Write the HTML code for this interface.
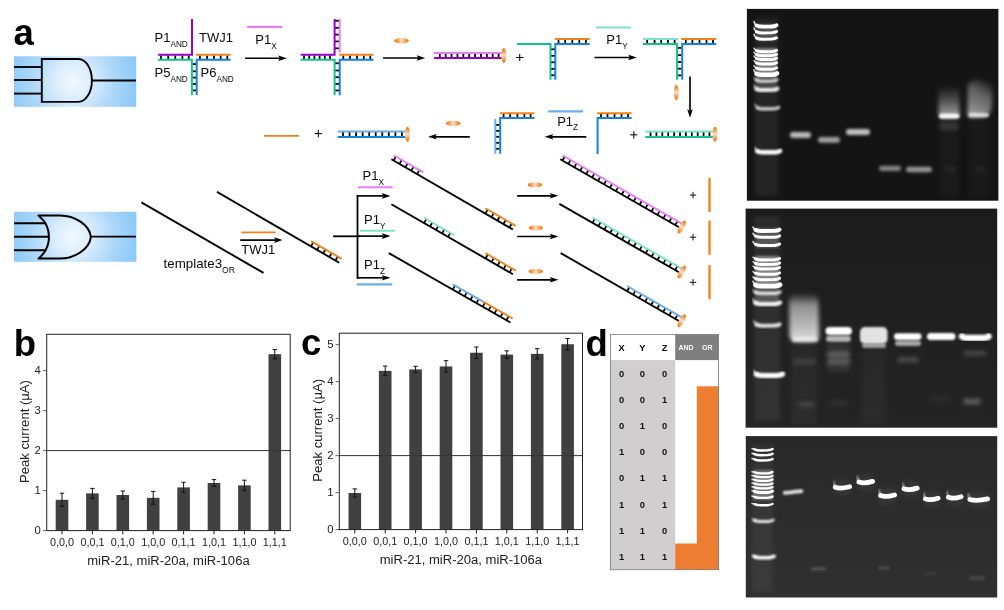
<!DOCTYPE html>
<html><head><meta charset="utf-8"><title>figure</title>
<style>html,body{margin:0;padding:0;background:#fff}svg{display:block;will-change:transform}text{font-family:"Liberation Sans",sans-serif}</style>
</head><body>
<svg width="1004" height="610" viewBox="0 0 1004 610">
<defs>
<radialGradient id="bg" gradientUnits="userSpaceOnUse" cx="73" cy="81.5" r="64">
<stop offset="0" stop-color="#f3f9fe"/><stop offset="0.3" stop-color="#d9ecfc"/><stop offset="0.65" stop-color="#acd7f9"/><stop offset="1" stop-color="#8dc9f7"/></radialGradient>
<radialGradient id="bg2" gradientUnits="userSpaceOnUse" cx="73" cy="237" r="64">
<stop offset="0" stop-color="#f3f9fe"/><stop offset="0.3" stop-color="#d9ecfc"/><stop offset="0.65" stop-color="#acd7f9"/><stop offset="1" stop-color="#8dc9f7"/></radialGradient>
<linearGradient id="ogh" x1="0" y1="0" x2="1" y2="0"><stop offset="0" stop-color="#ee7608"/><stop offset="0.22" stop-color="#f39a4a"/><stop offset="0.5" stop-color="#fbe0c9"/><stop offset="0.78" stop-color="#f39a4a"/><stop offset="1" stop-color="#ee7608"/></linearGradient>
<linearGradient id="ogv" x1="0" y1="0" x2="0" y2="1"><stop offset="0" stop-color="#ee7608"/><stop offset="0.22" stop-color="#f39a4a"/><stop offset="0.5" stop-color="#fbe0c9"/><stop offset="0.78" stop-color="#f39a4a"/><stop offset="1" stop-color="#ee7608"/></linearGradient>
<filter id="f05" x="-20%" y="-200%" width="140%" height="500%"><feGaussianBlur stdDeviation="0.55"/></filter>
<filter id="f08" x="-20%" y="-200%" width="140%" height="500%"><feGaussianBlur stdDeviation="0.9"/></filter>
<filter id="f12" x="-30%" y="-200%" width="160%" height="500%"><feGaussianBlur stdDeviation="1.3"/></filter>
<filter id="f15" x="-30%" y="-200%" width="160%" height="500%"><feGaussianBlur stdDeviation="1.6"/></filter>
<filter id="f2" x="-40%" y="-100%" width="180%" height="300%"><feGaussianBlur stdDeviation="2.2"/></filter>
<filter id="f4" x="-50%" y="-50%" width="200%" height="200%"><feGaussianBlur stdDeviation="4"/></filter>
<linearGradient id="sm" x1="0" y1="0" x2="0" y2="1"><stop offset="0" stop-color="#fff" stop-opacity="0"/><stop offset="0.25" stop-color="#fff" stop-opacity="0.5"/><stop offset="0.75" stop-color="#fff" stop-opacity="0.72"/><stop offset="1" stop-color="#fff" stop-opacity="0.88"/></linearGradient>
<linearGradient id="sm7" x1="0" y1="0" x2="0" y2="1"><stop offset="0" stop-color="#fff" stop-opacity="0"/><stop offset="0.4" stop-color="#fff" stop-opacity="0.22"/><stop offset="0.8" stop-color="#fff" stop-opacity="0.5"/><stop offset="1" stop-color="#fff" stop-opacity="0.7"/></linearGradient>
<linearGradient id="sm8" x1="0.3" y1="0" x2="0" y2="1"><stop offset="0" stop-color="#fff" stop-opacity="0"/><stop offset="0.3" stop-color="#fff" stop-opacity="0.3"/><stop offset="0.75" stop-color="#fff" stop-opacity="0.5"/><stop offset="1" stop-color="#fff" stop-opacity="0.72"/></linearGradient>
<linearGradient id="g2bg" x1="0" y1="0" x2="0" y2="1"><stop offset="0" stop-color="#1b1b1b"/><stop offset="1" stop-color="#242424"/></linearGradient>
<linearGradient id="g3bg" x1="0" y1="0" x2="0" y2="1"><stop offset="0" stop-color="#282828"/><stop offset="1" stop-color="#303030"/></linearGradient>
<linearGradient id="lad" x1="0" y1="0" x2="0" y2="1"><stop offset="0" stop-color="#fff" stop-opacity="0.05"/><stop offset="0.5" stop-color="#fff" stop-opacity="0.16"/><stop offset="1" stop-color="#fff" stop-opacity="0.03"/></linearGradient>
</defs>
<rect width="1004" height="610" fill="#fff"/>

<text x="13.50" y="45.20" font-size="36.5" text-anchor="start" font-weight="bold" fill="#000" >a</text>
<text x="13.70" y="356.20" font-size="36.5" text-anchor="start" font-weight="bold" fill="#000" >b</text>
<text x="301.00" y="354.90" font-size="36.5" text-anchor="start" font-weight="bold" fill="#000" >c</text>
<text x="585.50" y="356.40" font-size="36.5" text-anchor="start" font-weight="bold" fill="#000" >d</text>
<rect x="14" y="56.3" width="122.2" height="50.5" fill="url(#bg)"/>
<line x1="14.00" y1="67.00" x2="41.80" y2="67.00" stroke="#000" stroke-width="1.9" stroke-linecap="butt"/>
<line x1="14.00" y1="80.00" x2="41.80" y2="80.00" stroke="#000" stroke-width="1.9" stroke-linecap="butt"/>
<line x1="14.00" y1="93.60" x2="41.80" y2="93.60" stroke="#000" stroke-width="1.9" stroke-linecap="butt"/>
<line x1="91.90" y1="80.50" x2="136.00" y2="80.50" stroke="#000" stroke-width="1.8" stroke-linecap="butt"/>
<path d="M41.8 59 H78.4 A13.5 21.45 0 0 1 78.4 101.9 H41.8 Z" stroke="#000" stroke-width="1.9" fill="none" stroke-linejoin="miter" stroke-linecap="butt"/>
<rect x="14" y="211.8" width="122.4" height="50" fill="url(#bg2)"/>
<line x1="14.00" y1="223.30" x2="46.20" y2="223.30" stroke="#000" stroke-width="1.9" stroke-linecap="butt"/>
<line x1="14.00" y1="236.70" x2="49.00" y2="236.70" stroke="#000" stroke-width="1.9" stroke-linecap="butt"/>
<line x1="14.00" y1="250.30" x2="46.20" y2="250.30" stroke="#000" stroke-width="1.9" stroke-linecap="butt"/>
<line x1="90.70" y1="236.70" x2="136.00" y2="236.70" stroke="#000" stroke-width="1.8" stroke-linecap="butt"/>
<path d="M38.5 215.4 H60 C75 215.4 89.5 225 90.9 236.9 C89.5 249 75 258.5 60 258.5 H38.5 C52.5 247 52.5 227 38.5 215.4 Z" stroke="#000" stroke-width="2.0" fill="none" stroke-linejoin="round" stroke-linecap="butt"/>
<line x1="161.00" y1="55.50" x2="161.00" y2="59.00" stroke="#000" stroke-width="1.75" stroke-linecap="butt"/>
<line x1="168.20" y1="55.50" x2="168.20" y2="59.00" stroke="#000" stroke-width="1.75" stroke-linecap="butt"/>
<line x1="175.30" y1="55.50" x2="175.30" y2="59.00" stroke="#000" stroke-width="1.75" stroke-linecap="butt"/>
<line x1="182.40" y1="55.50" x2="182.40" y2="59.00" stroke="#000" stroke-width="1.75" stroke-linecap="butt"/>
<line x1="188.70" y1="55.50" x2="188.70" y2="59.00" stroke="#000" stroke-width="1.75" stroke-linecap="butt"/>
<line x1="199.90" y1="55.50" x2="199.90" y2="59.00" stroke="#000" stroke-width="1.75" stroke-linecap="butt"/>
<line x1="207.00" y1="55.50" x2="207.00" y2="59.00" stroke="#000" stroke-width="1.75" stroke-linecap="butt"/>
<line x1="213.90" y1="55.50" x2="213.90" y2="59.00" stroke="#000" stroke-width="1.75" stroke-linecap="butt"/>
<line x1="220.70" y1="55.50" x2="220.70" y2="59.00" stroke="#000" stroke-width="1.75" stroke-linecap="butt"/>
<line x1="227.30" y1="55.50" x2="227.30" y2="59.00" stroke="#000" stroke-width="1.75" stroke-linecap="butt"/>
<line x1="192.50" y1="64.10" x2="196.20" y2="64.10" stroke="#000" stroke-width="1.75" stroke-linecap="butt"/>
<line x1="192.50" y1="71.30" x2="196.20" y2="71.30" stroke="#000" stroke-width="1.75" stroke-linecap="butt"/>
<line x1="192.50" y1="77.60" x2="196.20" y2="77.60" stroke="#000" stroke-width="1.75" stroke-linecap="butt"/>
<line x1="192.50" y1="84.00" x2="196.20" y2="84.00" stroke="#000" stroke-width="1.75" stroke-linecap="butt"/>
<line x1="192.50" y1="90.40" x2="196.20" y2="90.40" stroke="#000" stroke-width="1.75" stroke-linecap="butt"/>
<path d="M158.1 54.7 H192 V19" stroke="#9900cc" stroke-width="2.0" fill="none" stroke-linejoin="miter" stroke-linecap="butt"/>
<path d="M158.1 59.75 H191.9 V94.9" stroke="#12c48b" stroke-width="2.0" fill="none" stroke-linejoin="miter" stroke-linecap="butt"/>
<path d="M230.6 59.75 H196.7 V94.9" stroke="#1381e0" stroke-width="2.0" fill="none" stroke-linejoin="miter" stroke-linecap="butt"/>
<line x1="196.00" y1="54.70" x2="230.60" y2="54.70" stroke="#f28118" stroke-width="2.0" stroke-linecap="butt"/>
<text x="154.60" y="42.00" font-size="13.0" fill="#0a0a0a">P1<tspan font-size="8.2" dy="4.7">AND</tspan></text>
<text x="199.00" y="42.00" font-size="13.0" text-anchor="start" font-weight="normal" fill="#0a0a0a" >TWJ1</text>
<text x="154.60" y="77.20" font-size="13.0" fill="#0a0a0a">P5<tspan font-size="8.2" dy="4.7">AND</tspan></text>
<text x="200.60" y="77.20" font-size="13.0" fill="#0a0a0a">P6<tspan font-size="8.2" dy="4.7">AND</tspan></text>
<line x1="247.10" y1="26.90" x2="282.40" y2="26.90" stroke="#e67ff5" stroke-width="2.1" stroke-linecap="butt"/>
<text x="255.30" y="43.90" font-size="13.0" fill="#0a0a0a">P1<tspan font-size="8.2" dy="5">X</tspan></text>
<line x1="245.00" y1="58.20" x2="279.80" y2="58.20" stroke="#000" stroke-width="1.65" stroke-linecap="butt"/>
<path d="M286.80 58.20 L278.30 61.00 L279.80 58.20 L278.30 55.40 Z" fill="#000"/>
<line x1="304.00" y1="55.50" x2="304.00" y2="59.00" stroke="#000" stroke-width="1.75" stroke-linecap="butt"/>
<line x1="309.20" y1="55.50" x2="309.20" y2="59.00" stroke="#000" stroke-width="1.75" stroke-linecap="butt"/>
<line x1="314.40" y1="55.50" x2="314.40" y2="59.00" stroke="#000" stroke-width="1.75" stroke-linecap="butt"/>
<line x1="319.60" y1="55.50" x2="319.60" y2="59.00" stroke="#000" stroke-width="1.75" stroke-linecap="butt"/>
<line x1="324.80" y1="55.50" x2="324.80" y2="59.00" stroke="#000" stroke-width="1.75" stroke-linecap="butt"/>
<line x1="330.00" y1="55.50" x2="330.00" y2="59.00" stroke="#000" stroke-width="1.75" stroke-linecap="butt"/>
<line x1="343.30" y1="55.50" x2="343.30" y2="59.00" stroke="#000" stroke-width="1.75" stroke-linecap="butt"/>
<line x1="350.00" y1="55.50" x2="350.00" y2="59.00" stroke="#000" stroke-width="1.75" stroke-linecap="butt"/>
<line x1="357.00" y1="55.50" x2="357.00" y2="59.00" stroke="#000" stroke-width="1.75" stroke-linecap="butt"/>
<line x1="363.80" y1="55.50" x2="363.80" y2="59.00" stroke="#000" stroke-width="1.75" stroke-linecap="butt"/>
<line x1="370.30" y1="55.50" x2="370.30" y2="59.00" stroke="#000" stroke-width="1.75" stroke-linecap="butt"/>
<line x1="335.00" y1="63.30" x2="339.40" y2="63.30" stroke="#000" stroke-width="1.75" stroke-linecap="butt"/>
<line x1="335.00" y1="70.50" x2="339.40" y2="70.50" stroke="#000" stroke-width="1.75" stroke-linecap="butt"/>
<line x1="335.00" y1="77.20" x2="339.40" y2="77.20" stroke="#000" stroke-width="1.75" stroke-linecap="butt"/>
<line x1="335.00" y1="83.90" x2="339.40" y2="83.90" stroke="#000" stroke-width="1.75" stroke-linecap="butt"/>
<line x1="335.00" y1="90.40" x2="339.40" y2="90.40" stroke="#000" stroke-width="1.75" stroke-linecap="butt"/>
<line x1="335.00" y1="20.80" x2="339.40" y2="20.80" stroke="#000" stroke-width="1.75" stroke-linecap="butt"/>
<line x1="335.00" y1="27.80" x2="339.40" y2="27.80" stroke="#000" stroke-width="1.75" stroke-linecap="butt"/>
<line x1="335.00" y1="34.60" x2="339.40" y2="34.60" stroke="#000" stroke-width="1.75" stroke-linecap="butt"/>
<line x1="335.00" y1="41.40" x2="339.40" y2="41.40" stroke="#000" stroke-width="1.75" stroke-linecap="butt"/>
<line x1="335.00" y1="48.30" x2="339.40" y2="48.30" stroke="#000" stroke-width="1.75" stroke-linecap="butt"/>
<path d="M300.7 54.7 H334.6 V19" stroke="#9900cc" stroke-width="2.0" fill="none" stroke-linejoin="miter" stroke-linecap="butt"/>
<line x1="339.70" y1="19.00" x2="339.70" y2="52.60" stroke="#e67ff5" stroke-width="2.0" stroke-linecap="butt"/>
<path d="M300.7 59.75 H334.6 V95.2" stroke="#12c48b" stroke-width="2.0" fill="none" stroke-linejoin="miter" stroke-linecap="butt"/>
<path d="M373.6 59.75 H339.7 V95.2" stroke="#1381e0" stroke-width="2.0" fill="none" stroke-linejoin="miter" stroke-linecap="butt"/>
<line x1="339.20" y1="54.70" x2="373.60" y2="54.70" stroke="#f28118" stroke-width="2.0" stroke-linecap="butt"/>
<ellipse cx="401.50" cy="40.80" rx="7.4" ry="2.7" fill="url(#ogh)"/>
<line x1="383.10" y1="58.00" x2="418.20" y2="58.00" stroke="#000" stroke-width="1.65" stroke-linecap="butt"/>
<path d="M425.20 58.00 L416.70 60.80 L418.20 58.00 L416.70 55.20 Z" fill="#000"/>
<line x1="439.80" y1="53.50" x2="439.80" y2="57.50" stroke="#000" stroke-width="1.75" stroke-linecap="butt"/>
<line x1="445.68" y1="53.50" x2="445.68" y2="57.50" stroke="#000" stroke-width="1.75" stroke-linecap="butt"/>
<line x1="451.56" y1="53.50" x2="451.56" y2="57.50" stroke="#000" stroke-width="1.75" stroke-linecap="butt"/>
<line x1="457.44" y1="53.50" x2="457.44" y2="57.50" stroke="#000" stroke-width="1.75" stroke-linecap="butt"/>
<line x1="463.32" y1="53.50" x2="463.32" y2="57.50" stroke="#000" stroke-width="1.75" stroke-linecap="butt"/>
<line x1="469.20" y1="53.50" x2="469.20" y2="57.50" stroke="#000" stroke-width="1.75" stroke-linecap="butt"/>
<line x1="475.08" y1="53.50" x2="475.08" y2="57.50" stroke="#000" stroke-width="1.75" stroke-linecap="butt"/>
<line x1="480.96" y1="53.50" x2="480.96" y2="57.50" stroke="#000" stroke-width="1.75" stroke-linecap="butt"/>
<line x1="486.84" y1="53.50" x2="486.84" y2="57.50" stroke="#000" stroke-width="1.75" stroke-linecap="butt"/>
<line x1="492.72" y1="53.50" x2="492.72" y2="57.50" stroke="#000" stroke-width="1.75" stroke-linecap="butt"/>
<line x1="498.60" y1="53.50" x2="498.60" y2="57.50" stroke="#000" stroke-width="1.75" stroke-linecap="butt"/>
<line x1="433.90" y1="53.00" x2="502.00" y2="53.00" stroke="#e67ff5" stroke-width="2.0" stroke-linecap="butt"/>
<line x1="433.90" y1="58.00" x2="502.00" y2="58.00" stroke="#9900cc" stroke-width="2.0" stroke-linecap="butt"/>
<ellipse cx="503.80" cy="55.40" rx="2.5" ry="7.5" fill="url(#ogv)"/>
<line x1="516.10" y1="57.50" x2="523.30" y2="57.50" stroke="#111" stroke-width="1.1" stroke-linecap="butt"/>
<line x1="519.70" y1="53.90" x2="519.70" y2="61.10" stroke="#111" stroke-width="1.1" stroke-linecap="butt"/>
<line x1="558.50" y1="39.50" x2="558.50" y2="43.50" stroke="#000" stroke-width="1.75" stroke-linecap="butt"/>
<line x1="565.20" y1="39.50" x2="565.20" y2="43.50" stroke="#000" stroke-width="1.75" stroke-linecap="butt"/>
<line x1="572.30" y1="39.50" x2="572.30" y2="43.50" stroke="#000" stroke-width="1.75" stroke-linecap="butt"/>
<line x1="579.30" y1="39.50" x2="579.30" y2="43.50" stroke="#000" stroke-width="1.75" stroke-linecap="butt"/>
<line x1="585.90" y1="39.50" x2="585.90" y2="43.50" stroke="#000" stroke-width="1.75" stroke-linecap="butt"/>
<line x1="551.00" y1="49.30" x2="555.00" y2="49.30" stroke="#000" stroke-width="1.75" stroke-linecap="butt"/>
<line x1="551.00" y1="55.80" x2="555.00" y2="55.80" stroke="#000" stroke-width="1.75" stroke-linecap="butt"/>
<line x1="551.00" y1="62.30" x2="555.00" y2="62.30" stroke="#000" stroke-width="1.75" stroke-linecap="butt"/>
<line x1="551.00" y1="68.90" x2="555.00" y2="68.90" stroke="#000" stroke-width="1.75" stroke-linecap="butt"/>
<line x1="551.00" y1="75.20" x2="555.00" y2="75.20" stroke="#000" stroke-width="1.75" stroke-linecap="butt"/>
<path d="M517 44.1 H550.5 V79.8" stroke="#12c48b" stroke-width="2.0" fill="none" stroke-linejoin="miter" stroke-linecap="butt"/>
<path d="M589.7 43.9 H555.3 V79.8" stroke="#1381e0" stroke-width="2.0" fill="none" stroke-linejoin="miter" stroke-linecap="butt"/>
<line x1="554.80" y1="39.05" x2="589.70" y2="39.05" stroke="#f28118" stroke-width="2.0" stroke-linecap="butt"/>
<line x1="595.80" y1="27.50" x2="631.00" y2="27.50" stroke="#7de3c4" stroke-width="2.1" stroke-linecap="butt"/>
<text x="606.30" y="44.20" font-size="13.0" fill="#0a0a0a">P1<tspan font-size="8.2" dy="4.8">Y</tspan></text>
<line x1="594.50" y1="57.50" x2="629.80" y2="57.50" stroke="#000" stroke-width="1.65" stroke-linecap="butt"/>
<path d="M636.80 57.50 L628.30 60.30 L629.80 57.50 L628.30 54.70 Z" fill="#000"/>
<line x1="647.20" y1="39.50" x2="647.20" y2="43.50" stroke="#000" stroke-width="1.75" stroke-linecap="butt"/>
<line x1="654.60" y1="39.50" x2="654.60" y2="43.50" stroke="#000" stroke-width="1.75" stroke-linecap="butt"/>
<line x1="661.20" y1="39.50" x2="661.20" y2="43.50" stroke="#000" stroke-width="1.75" stroke-linecap="butt"/>
<line x1="667.90" y1="39.50" x2="667.90" y2="43.50" stroke="#000" stroke-width="1.75" stroke-linecap="butt"/>
<line x1="674.60" y1="39.50" x2="674.60" y2="43.50" stroke="#000" stroke-width="1.75" stroke-linecap="butt"/>
<line x1="685.80" y1="39.50" x2="685.80" y2="43.50" stroke="#000" stroke-width="1.75" stroke-linecap="butt"/>
<line x1="692.40" y1="39.50" x2="692.40" y2="43.50" stroke="#000" stroke-width="1.75" stroke-linecap="butt"/>
<line x1="699.50" y1="39.50" x2="699.50" y2="43.50" stroke="#000" stroke-width="1.75" stroke-linecap="butt"/>
<line x1="706.50" y1="39.50" x2="706.50" y2="43.50" stroke="#000" stroke-width="1.75" stroke-linecap="butt"/>
<line x1="713.00" y1="39.50" x2="713.00" y2="43.50" stroke="#000" stroke-width="1.75" stroke-linecap="butt"/>
<line x1="678.00" y1="47.90" x2="681.50" y2="47.90" stroke="#000" stroke-width="1.75" stroke-linecap="butt"/>
<line x1="678.00" y1="55.10" x2="681.50" y2="55.10" stroke="#000" stroke-width="1.75" stroke-linecap="butt"/>
<line x1="678.00" y1="62.00" x2="681.50" y2="62.00" stroke="#000" stroke-width="1.75" stroke-linecap="butt"/>
<line x1="678.00" y1="68.70" x2="681.50" y2="68.70" stroke="#000" stroke-width="1.75" stroke-linecap="butt"/>
<line x1="678.00" y1="75.40" x2="681.50" y2="75.40" stroke="#000" stroke-width="1.75" stroke-linecap="butt"/>
<line x1="643.00" y1="39.05" x2="678.10" y2="39.05" stroke="#7de3c4" stroke-width="2.0" stroke-linecap="butt"/>
<path d="M643 43.9 H677.1 V79.8" stroke="#12c48b" stroke-width="2.0" fill="none" stroke-linejoin="miter" stroke-linecap="butt"/>
<path d="M716.2 43.9 H682.2 V79.8" stroke="#1381e0" stroke-width="2.0" fill="none" stroke-linejoin="miter" stroke-linecap="butt"/>
<line x1="681.10" y1="39.05" x2="716.20" y2="39.05" stroke="#f28118" stroke-width="2.0" stroke-linecap="butt"/>
<ellipse cx="676.30" cy="92.40" rx="2.5" ry="7.5" fill="url(#ogv)"/>
<line x1="690.00" y1="76.50" x2="690.00" y2="110.70" stroke="#000" stroke-width="1.65" stroke-linecap="butt"/>
<path d="M690.00 117.70 L687.20 109.20 L690.00 110.70 L692.80 109.20 Z" fill="#000"/>
<line x1="650.50" y1="132.00" x2="650.50" y2="136.50" stroke="#000" stroke-width="1.75" stroke-linecap="butt"/>
<line x1="656.40" y1="132.00" x2="656.40" y2="136.50" stroke="#000" stroke-width="1.75" stroke-linecap="butt"/>
<line x1="662.30" y1="132.00" x2="662.30" y2="136.50" stroke="#000" stroke-width="1.75" stroke-linecap="butt"/>
<line x1="668.20" y1="132.00" x2="668.20" y2="136.50" stroke="#000" stroke-width="1.75" stroke-linecap="butt"/>
<line x1="674.10" y1="132.00" x2="674.10" y2="136.50" stroke="#000" stroke-width="1.75" stroke-linecap="butt"/>
<line x1="680.00" y1="132.00" x2="680.00" y2="136.50" stroke="#000" stroke-width="1.75" stroke-linecap="butt"/>
<line x1="685.90" y1="132.00" x2="685.90" y2="136.50" stroke="#000" stroke-width="1.75" stroke-linecap="butt"/>
<line x1="691.80" y1="132.00" x2="691.80" y2="136.50" stroke="#000" stroke-width="1.75" stroke-linecap="butt"/>
<line x1="697.70" y1="132.00" x2="697.70" y2="136.50" stroke="#000" stroke-width="1.75" stroke-linecap="butt"/>
<line x1="703.60" y1="132.00" x2="703.60" y2="136.50" stroke="#000" stroke-width="1.75" stroke-linecap="butt"/>
<line x1="709.50" y1="132.00" x2="709.50" y2="136.50" stroke="#000" stroke-width="1.75" stroke-linecap="butt"/>
<line x1="645.30" y1="131.60" x2="713.40" y2="131.60" stroke="#7de3c4" stroke-width="2.0" stroke-linecap="butt"/>
<line x1="645.30" y1="137.10" x2="713.40" y2="137.10" stroke="#12c48b" stroke-width="2.0" stroke-linecap="butt"/>
<ellipse cx="715.00" cy="134.30" rx="2.5" ry="7.5" fill="url(#ogv)"/>
<line x1="630.20" y1="134.80" x2="637.40" y2="134.80" stroke="#111" stroke-width="1.1" stroke-linecap="butt"/>
<line x1="633.80" y1="131.20" x2="633.80" y2="138.40" stroke="#111" stroke-width="1.1" stroke-linecap="butt"/>
<line x1="601.00" y1="113.80" x2="601.00" y2="117.50" stroke="#000" stroke-width="1.75" stroke-linecap="butt"/>
<line x1="607.50" y1="113.80" x2="607.50" y2="117.50" stroke="#000" stroke-width="1.75" stroke-linecap="butt"/>
<line x1="614.50" y1="113.80" x2="614.50" y2="117.50" stroke="#000" stroke-width="1.75" stroke-linecap="butt"/>
<line x1="621.50" y1="113.80" x2="621.50" y2="117.50" stroke="#000" stroke-width="1.75" stroke-linecap="butt"/>
<line x1="628.00" y1="113.80" x2="628.00" y2="117.50" stroke="#000" stroke-width="1.75" stroke-linecap="butt"/>
<line x1="597.10" y1="113.20" x2="631.60" y2="113.20" stroke="#f28118" stroke-width="2.0" stroke-linecap="butt"/>
<path d="M631.6 118 H597.6 V154" stroke="#1381e0" stroke-width="2.0" fill="none" stroke-linejoin="miter" stroke-linecap="butt"/>
<line x1="548.20" y1="111.40" x2="583.00" y2="111.40" stroke="#6aaee9" stroke-width="2.1" stroke-linecap="butt"/>
<text x="557.20" y="125.60" font-size="13.0" fill="#0a0a0a">P1<tspan font-size="8.2" dy="4.8">Z</tspan></text>
<line x1="586.30" y1="136.80" x2="551.70" y2="136.80" stroke="#000" stroke-width="1.65" stroke-linecap="butt"/>
<path d="M544.70 136.80 L553.20 134.00 L551.70 136.80 L553.20 139.60 Z" fill="#000"/>
<line x1="503.60" y1="113.80" x2="503.60" y2="117.50" stroke="#000" stroke-width="1.75" stroke-linecap="butt"/>
<line x1="510.20" y1="113.80" x2="510.20" y2="117.50" stroke="#000" stroke-width="1.75" stroke-linecap="butt"/>
<line x1="517.40" y1="113.80" x2="517.40" y2="117.50" stroke="#000" stroke-width="1.75" stroke-linecap="butt"/>
<line x1="524.40" y1="113.80" x2="524.40" y2="117.50" stroke="#000" stroke-width="1.75" stroke-linecap="butt"/>
<line x1="530.60" y1="113.80" x2="530.60" y2="117.50" stroke="#000" stroke-width="1.75" stroke-linecap="butt"/>
<line x1="495.80" y1="124.90" x2="499.50" y2="124.90" stroke="#000" stroke-width="1.75" stroke-linecap="butt"/>
<line x1="495.80" y1="130.90" x2="499.50" y2="130.90" stroke="#000" stroke-width="1.75" stroke-linecap="butt"/>
<line x1="495.80" y1="136.80" x2="499.50" y2="136.80" stroke="#000" stroke-width="1.75" stroke-linecap="butt"/>
<line x1="495.80" y1="142.80" x2="499.50" y2="142.80" stroke="#000" stroke-width="1.75" stroke-linecap="butt"/>
<line x1="495.80" y1="148.80" x2="499.50" y2="148.80" stroke="#000" stroke-width="1.75" stroke-linecap="butt"/>
<line x1="500.00" y1="113.30" x2="534.50" y2="113.30" stroke="#f28118" stroke-width="2.0" stroke-linecap="butt"/>
<path d="M534.5 117.9 H500.2 V153.8" stroke="#1381e0" stroke-width="2.0" fill="none" stroke-linejoin="miter" stroke-linecap="butt"/>
<line x1="495.30" y1="118.90" x2="495.30" y2="153.80" stroke="#6aaee9" stroke-width="2.0" stroke-linecap="butt"/>
<ellipse cx="453.20" cy="123.30" rx="7.4" ry="2.6" fill="url(#ogh)"/>
<line x1="469.80" y1="136.80" x2="435.10" y2="136.80" stroke="#000" stroke-width="1.65" stroke-linecap="butt"/>
<path d="M428.10 136.80 L436.60 134.00 L435.10 136.80 L436.60 139.60 Z" fill="#000"/>
<line x1="343.00" y1="132.00" x2="343.00" y2="136.50" stroke="#000" stroke-width="1.75" stroke-linecap="butt"/>
<line x1="349.54" y1="132.00" x2="349.54" y2="136.50" stroke="#000" stroke-width="1.75" stroke-linecap="butt"/>
<line x1="356.09" y1="132.00" x2="356.09" y2="136.50" stroke="#000" stroke-width="1.75" stroke-linecap="butt"/>
<line x1="362.63" y1="132.00" x2="362.63" y2="136.50" stroke="#000" stroke-width="1.75" stroke-linecap="butt"/>
<line x1="369.18" y1="132.00" x2="369.18" y2="136.50" stroke="#000" stroke-width="1.75" stroke-linecap="butt"/>
<line x1="375.72" y1="132.00" x2="375.72" y2="136.50" stroke="#000" stroke-width="1.75" stroke-linecap="butt"/>
<line x1="382.27" y1="132.00" x2="382.27" y2="136.50" stroke="#000" stroke-width="1.75" stroke-linecap="butt"/>
<line x1="388.81" y1="132.00" x2="388.81" y2="136.50" stroke="#000" stroke-width="1.75" stroke-linecap="butt"/>
<line x1="395.36" y1="132.00" x2="395.36" y2="136.50" stroke="#000" stroke-width="1.75" stroke-linecap="butt"/>
<line x1="401.90" y1="132.00" x2="401.90" y2="136.50" stroke="#000" stroke-width="1.75" stroke-linecap="butt"/>
<line x1="337.70" y1="131.60" x2="405.30" y2="131.60" stroke="#6aaee9" stroke-width="2.0" stroke-linecap="butt"/>
<line x1="337.70" y1="136.90" x2="405.30" y2="136.90" stroke="#1381e0" stroke-width="2.0" stroke-linecap="butt"/>
<ellipse cx="407.50" cy="134.30" rx="2.5" ry="7.5" fill="url(#ogv)"/>
<line x1="314.70" y1="133.60" x2="321.90" y2="133.60" stroke="#111" stroke-width="1.1" stroke-linecap="butt"/>
<line x1="318.30" y1="130.00" x2="318.30" y2="137.20" stroke="#111" stroke-width="1.1" stroke-linecap="butt"/>
<line x1="264.00" y1="135.90" x2="299.20" y2="135.90" stroke="#f28118" stroke-width="1.9" stroke-linecap="butt"/>
<line x1="141.40" y1="202.40" x2="263.50" y2="272.90" stroke="#000" stroke-width="1.9" stroke-linecap="butt"/>
<line x1="310.97" y1="246.34" x2="313.27" y2="242.36" stroke="#000" stroke-width="1.7" stroke-linecap="butt"/>
<line x1="317.09" y1="249.89" x2="319.40" y2="245.91" stroke="#000" stroke-width="1.7" stroke-linecap="butt"/>
<line x1="323.21" y1="253.44" x2="325.52" y2="249.46" stroke="#000" stroke-width="1.7" stroke-linecap="butt"/>
<line x1="329.33" y1="256.98" x2="331.64" y2="253.00" stroke="#000" stroke-width="1.7" stroke-linecap="butt"/>
<line x1="335.45" y1="260.53" x2="337.76" y2="256.55" stroke="#000" stroke-width="1.7" stroke-linecap="butt"/>
<line x1="217.00" y1="191.90" x2="339.20" y2="262.70" stroke="#000" stroke-width="1.9" stroke-linecap="butt"/>
<line x1="311.02" y1="241.06" x2="341.74" y2="258.86" stroke="#f28118" stroke-width="1.9" stroke-linecap="butt"/>
<text x="163.50" y="267.90" font-size="13.35" text-anchor="start" font-weight="normal" fill="#0a0a0a" >template3<tspan font-size="8.6" dy="4.6">OR</tspan></text>
<line x1="241.30" y1="232.40" x2="275.70" y2="232.40" stroke="#f28118" stroke-width="1.8" stroke-linecap="butt"/>
<line x1="240.20" y1="240.10" x2="275.60" y2="240.10" stroke="#000" stroke-width="1.65" stroke-linecap="butt"/>
<path d="M282.60 240.10 L274.10 242.90 L275.60 240.10 L274.10 237.30 Z" fill="#000"/>
<text x="241.20" y="253.70" font-size="13.0" text-anchor="start" font-weight="normal" fill="#0a0a0a" >TWJ1</text>
<line x1="333.10" y1="236.30" x2="360.00" y2="236.30" stroke="#000" stroke-width="1.8" stroke-linecap="butt"/>
<path d="M357.5 195.0 V278.7" stroke="#000" stroke-width="1.8" fill="none" stroke-linejoin="miter" stroke-linecap="butt"/>
<line x1="356.80" y1="195.90" x2="383.40" y2="195.90" stroke="#000" stroke-width="1.65" stroke-linecap="butt"/>
<path d="M390.40 195.90 L381.90 198.70 L383.40 195.90 L381.90 193.10 Z" fill="#000"/>
<line x1="357.50" y1="236.10" x2="383.40" y2="236.10" stroke="#000" stroke-width="1.65" stroke-linecap="butt"/>
<path d="M390.40 236.10 L381.90 238.90 L383.40 236.10 L381.90 233.30 Z" fill="#000"/>
<line x1="356.80" y1="277.80" x2="383.40" y2="277.80" stroke="#000" stroke-width="1.65" stroke-linecap="butt"/>
<path d="M390.40 277.80 L381.90 280.60 L383.40 277.80 L381.90 275.00 Z" fill="#000"/>
<text x="362.60" y="180.20" font-size="13.0" fill="#0a0a0a">P1<tspan font-size="8.2" dy="4.4">X</tspan></text>
<line x1="358.00" y1="187.30" x2="392.70" y2="187.30" stroke="#e67ff5" stroke-width="2.1" stroke-linecap="butt"/>
<text x="364.00" y="224.30" font-size="13.0" fill="#0a0a0a">P1<tspan font-size="8.2" dy="4.4">Y</tspan></text>
<line x1="359.90" y1="230.80" x2="394.80" y2="230.80" stroke="#7de3c4" stroke-width="2.1" stroke-linecap="butt"/>
<text x="364.00" y="269.40" font-size="13.0" fill="#0a0a0a">P1<tspan font-size="8.2" dy="4.4">Z</tspan></text>
<line x1="356.70" y1="284.40" x2="392.20" y2="284.40" stroke="#6aaee9" stroke-width="2.1" stroke-linecap="butt"/>
<line x1="393.65" y1="160.50" x2="395.95" y2="156.52" stroke="#000" stroke-width="1.7" stroke-linecap="butt"/>
<line x1="399.51" y1="163.90" x2="401.82" y2="159.91" stroke="#000" stroke-width="1.7" stroke-linecap="butt"/>
<line x1="405.38" y1="167.29" x2="407.68" y2="163.31" stroke="#000" stroke-width="1.7" stroke-linecap="butt"/>
<line x1="411.24" y1="170.68" x2="413.55" y2="166.70" stroke="#000" stroke-width="1.7" stroke-linecap="butt"/>
<line x1="417.11" y1="174.07" x2="419.41" y2="170.09" stroke="#000" stroke-width="1.7" stroke-linecap="butt"/>
<line x1="485.40" y1="213.59" x2="487.70" y2="209.61" stroke="#000" stroke-width="1.7" stroke-linecap="butt"/>
<line x1="491.42" y1="217.07" x2="493.72" y2="213.09" stroke="#000" stroke-width="1.7" stroke-linecap="butt"/>
<line x1="497.43" y1="220.55" x2="499.73" y2="216.57" stroke="#000" stroke-width="1.7" stroke-linecap="butt"/>
<line x1="503.45" y1="224.03" x2="505.75" y2="220.05" stroke="#000" stroke-width="1.7" stroke-linecap="butt"/>
<line x1="509.46" y1="227.51" x2="511.77" y2="223.53" stroke="#000" stroke-width="1.7" stroke-linecap="butt"/>
<line x1="391.40" y1="159.20" x2="512.90" y2="229.50" stroke="#000" stroke-width="1.9" stroke-linecap="butt"/>
<line x1="393.70" y1="155.22" x2="423.39" y2="172.40" stroke="#e67ff5" stroke-width="1.9" stroke-linecap="butt"/>
<line x1="485.45" y1="208.30" x2="515.75" y2="225.83" stroke="#f28118" stroke-width="1.9" stroke-linecap="butt"/>
<line x1="423.99" y1="223.05" x2="426.29" y2="219.06" stroke="#000" stroke-width="1.7" stroke-linecap="butt"/>
<line x1="430.02" y1="226.52" x2="432.31" y2="222.53" stroke="#000" stroke-width="1.7" stroke-linecap="butt"/>
<line x1="436.04" y1="229.98" x2="438.33" y2="225.99" stroke="#000" stroke-width="1.7" stroke-linecap="butt"/>
<line x1="442.06" y1="233.45" x2="444.36" y2="229.46" stroke="#000" stroke-width="1.7" stroke-linecap="butt"/>
<line x1="448.09" y1="236.91" x2="450.38" y2="232.93" stroke="#000" stroke-width="1.7" stroke-linecap="butt"/>
<line x1="485.53" y1="258.46" x2="487.83" y2="254.47" stroke="#000" stroke-width="1.7" stroke-linecap="butt"/>
<line x1="491.56" y1="261.92" x2="493.85" y2="257.93" stroke="#000" stroke-width="1.7" stroke-linecap="butt"/>
<line x1="497.58" y1="265.39" x2="499.88" y2="261.40" stroke="#000" stroke-width="1.7" stroke-linecap="butt"/>
<line x1="503.61" y1="268.85" x2="505.90" y2="264.87" stroke="#000" stroke-width="1.7" stroke-linecap="butt"/>
<line x1="509.63" y1="272.32" x2="511.92" y2="268.33" stroke="#000" stroke-width="1.7" stroke-linecap="butt"/>
<line x1="391.40" y1="204.30" x2="512.90" y2="274.20" stroke="#000" stroke-width="1.9" stroke-linecap="butt"/>
<line x1="424.03" y1="217.77" x2="454.37" y2="235.22" stroke="#7de3c4" stroke-width="1.9" stroke-linecap="butt"/>
<line x1="485.57" y1="253.17" x2="515.91" y2="270.63" stroke="#f28118" stroke-width="1.9" stroke-linecap="butt"/>
<line x1="452.72" y1="289.58" x2="455.00" y2="285.59" stroke="#000" stroke-width="1.7" stroke-linecap="butt"/>
<line x1="458.65" y1="292.96" x2="460.93" y2="288.97" stroke="#000" stroke-width="1.7" stroke-linecap="butt"/>
<line x1="464.58" y1="296.35" x2="466.86" y2="292.35" stroke="#000" stroke-width="1.7" stroke-linecap="butt"/>
<line x1="470.50" y1="299.73" x2="472.78" y2="295.74" stroke="#000" stroke-width="1.7" stroke-linecap="butt"/>
<line x1="476.43" y1="303.11" x2="478.71" y2="299.12" stroke="#000" stroke-width="1.7" stroke-linecap="butt"/>
<line x1="482.69" y1="306.68" x2="484.97" y2="302.69" stroke="#000" stroke-width="1.7" stroke-linecap="butt"/>
<line x1="488.61" y1="310.07" x2="490.89" y2="306.07" stroke="#000" stroke-width="1.7" stroke-linecap="butt"/>
<line x1="494.54" y1="313.45" x2="496.82" y2="309.45" stroke="#000" stroke-width="1.7" stroke-linecap="butt"/>
<line x1="500.47" y1="316.83" x2="502.75" y2="312.84" stroke="#000" stroke-width="1.7" stroke-linecap="butt"/>
<line x1="506.40" y1="320.21" x2="508.68" y2="316.22" stroke="#000" stroke-width="1.7" stroke-linecap="butt"/>
<line x1="388.80" y1="253.10" x2="510.40" y2="322.50" stroke="#000" stroke-width="1.9" stroke-linecap="butt"/>
<line x1="452.74" y1="284.30" x2="482.71" y2="301.40" stroke="#6aaee9" stroke-width="1.9" stroke-linecap="butt"/>
<line x1="482.71" y1="301.40" x2="512.67" y2="318.50" stroke="#f28118" stroke-width="1.9" stroke-linecap="butt"/>
<line x1="517.10" y1="195.80" x2="551.40" y2="195.80" stroke="#000" stroke-width="1.65" stroke-linecap="butt"/>
<path d="M558.40 195.80 L549.90 198.60 L551.40 195.80 L549.90 193.00 Z" fill="#000"/>
<ellipse cx="534.90" cy="184.90" rx="7.2" ry="2.6" fill="url(#ogh)"/>
<line x1="517.10" y1="236.50" x2="551.40" y2="236.50" stroke="#000" stroke-width="1.65" stroke-linecap="butt"/>
<path d="M558.40 236.50 L549.90 239.30 L551.40 236.50 L549.90 233.70 Z" fill="#000"/>
<ellipse cx="535.80" cy="227.80" rx="7.2" ry="2.6" fill="url(#ogh)"/>
<line x1="517.10" y1="279.80" x2="551.40" y2="279.80" stroke="#000" stroke-width="1.65" stroke-linecap="butt"/>
<path d="M558.40 279.80 L549.90 282.60 L551.40 279.80 L549.90 277.00 Z" fill="#000"/>
<ellipse cx="535.80" cy="271.40" rx="7.2" ry="2.6" fill="url(#ogh)"/>
<line x1="562.46" y1="160.49" x2="564.74" y2="156.50" stroke="#000" stroke-width="1.7" stroke-linecap="butt"/>
<line x1="568.39" y1="163.90" x2="570.68" y2="159.90" stroke="#000" stroke-width="1.7" stroke-linecap="butt"/>
<line x1="574.33" y1="167.30" x2="576.62" y2="163.31" stroke="#000" stroke-width="1.7" stroke-linecap="butt"/>
<line x1="580.26" y1="170.70" x2="582.55" y2="166.71" stroke="#000" stroke-width="1.7" stroke-linecap="butt"/>
<line x1="586.20" y1="174.10" x2="588.49" y2="170.11" stroke="#000" stroke-width="1.7" stroke-linecap="butt"/>
<line x1="592.14" y1="177.51" x2="594.42" y2="173.52" stroke="#000" stroke-width="1.7" stroke-linecap="butt"/>
<line x1="598.07" y1="180.91" x2="600.36" y2="176.92" stroke="#000" stroke-width="1.7" stroke-linecap="butt"/>
<line x1="604.01" y1="184.31" x2="606.30" y2="180.32" stroke="#000" stroke-width="1.7" stroke-linecap="butt"/>
<line x1="609.94" y1="187.71" x2="612.23" y2="183.72" stroke="#000" stroke-width="1.7" stroke-linecap="butt"/>
<line x1="615.88" y1="191.12" x2="618.17" y2="187.13" stroke="#000" stroke-width="1.7" stroke-linecap="butt"/>
<line x1="621.82" y1="194.52" x2="624.10" y2="190.53" stroke="#000" stroke-width="1.7" stroke-linecap="butt"/>
<line x1="627.75" y1="197.92" x2="630.04" y2="193.93" stroke="#000" stroke-width="1.7" stroke-linecap="butt"/>
<line x1="633.69" y1="201.33" x2="635.98" y2="197.33" stroke="#000" stroke-width="1.7" stroke-linecap="butt"/>
<line x1="639.62" y1="204.73" x2="641.91" y2="200.74" stroke="#000" stroke-width="1.7" stroke-linecap="butt"/>
<line x1="645.56" y1="208.13" x2="647.85" y2="204.14" stroke="#000" stroke-width="1.7" stroke-linecap="butt"/>
<line x1="651.50" y1="211.53" x2="653.78" y2="207.54" stroke="#000" stroke-width="1.7" stroke-linecap="butt"/>
<line x1="657.43" y1="214.94" x2="659.72" y2="210.95" stroke="#000" stroke-width="1.7" stroke-linecap="butt"/>
<line x1="663.37" y1="218.34" x2="665.66" y2="214.35" stroke="#000" stroke-width="1.7" stroke-linecap="butt"/>
<line x1="669.30" y1="221.74" x2="671.59" y2="217.75" stroke="#000" stroke-width="1.7" stroke-linecap="butt"/>
<line x1="675.24" y1="225.14" x2="677.53" y2="221.15" stroke="#000" stroke-width="1.7" stroke-linecap="butt"/>
<line x1="560.20" y1="159.20" x2="679.00" y2="227.30" stroke="#000" stroke-width="1.9" stroke-linecap="butt"/>
<line x1="562.49" y1="155.21" x2="681.52" y2="223.44" stroke="#e67ff5" stroke-width="1.9" stroke-linecap="butt"/>
<ellipse cx="681.70" cy="227.01" rx="2.6" ry="7.3" fill="url(#ogv)" transform="rotate(29.82272877555106 681.70 227.01)"/>
<line x1="592.47" y1="222.81" x2="594.76" y2="218.82" stroke="#000" stroke-width="1.7" stroke-linecap="butt"/>
<line x1="598.38" y1="226.19" x2="600.67" y2="222.20" stroke="#000" stroke-width="1.7" stroke-linecap="butt"/>
<line x1="604.29" y1="229.57" x2="606.58" y2="225.58" stroke="#000" stroke-width="1.7" stroke-linecap="butt"/>
<line x1="610.20" y1="232.95" x2="612.48" y2="228.96" stroke="#000" stroke-width="1.7" stroke-linecap="butt"/>
<line x1="616.11" y1="236.33" x2="618.39" y2="232.34" stroke="#000" stroke-width="1.7" stroke-linecap="butt"/>
<line x1="622.02" y1="239.71" x2="624.30" y2="235.72" stroke="#000" stroke-width="1.7" stroke-linecap="butt"/>
<line x1="627.93" y1="243.09" x2="630.21" y2="239.10" stroke="#000" stroke-width="1.7" stroke-linecap="butt"/>
<line x1="633.84" y1="246.47" x2="636.12" y2="242.48" stroke="#000" stroke-width="1.7" stroke-linecap="butt"/>
<line x1="639.75" y1="249.85" x2="642.03" y2="245.86" stroke="#000" stroke-width="1.7" stroke-linecap="butt"/>
<line x1="645.65" y1="253.23" x2="647.94" y2="249.24" stroke="#000" stroke-width="1.7" stroke-linecap="butt"/>
<line x1="651.56" y1="256.61" x2="653.85" y2="252.62" stroke="#000" stroke-width="1.7" stroke-linecap="butt"/>
<line x1="657.47" y1="259.99" x2="659.76" y2="256.00" stroke="#000" stroke-width="1.7" stroke-linecap="butt"/>
<line x1="663.38" y1="263.37" x2="665.67" y2="259.37" stroke="#000" stroke-width="1.7" stroke-linecap="butt"/>
<line x1="669.29" y1="266.75" x2="671.57" y2="262.75" stroke="#000" stroke-width="1.7" stroke-linecap="butt"/>
<line x1="675.20" y1="270.13" x2="677.48" y2="266.13" stroke="#000" stroke-width="1.7" stroke-linecap="butt"/>
<line x1="559.40" y1="203.90" x2="679.00" y2="272.30" stroke="#000" stroke-width="1.9" stroke-linecap="butt"/>
<line x1="592.50" y1="217.53" x2="681.48" y2="268.42" stroke="#7de3c4" stroke-width="1.9" stroke-linecap="butt"/>
<ellipse cx="681.70" cy="272.00" rx="2.6" ry="7.3" fill="url(#ogv)" transform="rotate(29.76551355370726 681.70 272.00)"/>
<line x1="627.13" y1="291.23" x2="629.42" y2="287.24" stroke="#000" stroke-width="1.7" stroke-linecap="butt"/>
<line x1="633.14" y1="294.68" x2="635.43" y2="290.69" stroke="#000" stroke-width="1.7" stroke-linecap="butt"/>
<line x1="639.15" y1="298.13" x2="641.44" y2="294.14" stroke="#000" stroke-width="1.7" stroke-linecap="butt"/>
<line x1="645.15" y1="301.57" x2="647.44" y2="297.58" stroke="#000" stroke-width="1.7" stroke-linecap="butt"/>
<line x1="651.16" y1="305.02" x2="653.45" y2="301.03" stroke="#000" stroke-width="1.7" stroke-linecap="butt"/>
<line x1="657.16" y1="308.47" x2="659.45" y2="304.48" stroke="#000" stroke-width="1.7" stroke-linecap="butt"/>
<line x1="663.17" y1="311.91" x2="665.46" y2="307.93" stroke="#000" stroke-width="1.7" stroke-linecap="butt"/>
<line x1="669.18" y1="315.36" x2="671.47" y2="311.37" stroke="#000" stroke-width="1.7" stroke-linecap="butt"/>
<line x1="675.18" y1="318.81" x2="677.47" y2="314.82" stroke="#000" stroke-width="1.7" stroke-linecap="butt"/>
<line x1="560.70" y1="253.10" x2="679.00" y2="321.00" stroke="#000" stroke-width="1.9" stroke-linecap="butt"/>
<line x1="627.17" y1="285.95" x2="681.46" y2="317.11" stroke="#6aaee9" stroke-width="1.9" stroke-linecap="butt"/>
<ellipse cx="681.70" cy="320.71" rx="2.6" ry="7.3" fill="url(#ogv)" transform="rotate(29.85429385556983 681.70 320.71)"/>
<line x1="689.80" y1="195.10" x2="696.20" y2="195.10" stroke="#111" stroke-width="1.0" stroke-linecap="butt"/>
<line x1="693.00" y1="191.90" x2="693.00" y2="198.30" stroke="#111" stroke-width="1.0" stroke-linecap="butt"/>
<line x1="689.80" y1="237.20" x2="696.20" y2="237.20" stroke="#111" stroke-width="1.0" stroke-linecap="butt"/>
<line x1="693.00" y1="234.00" x2="693.00" y2="240.40" stroke="#111" stroke-width="1.0" stroke-linecap="butt"/>
<line x1="689.80" y1="282.30" x2="696.20" y2="282.30" stroke="#111" stroke-width="1.0" stroke-linecap="butt"/>
<line x1="693.00" y1="279.10" x2="693.00" y2="285.50" stroke="#111" stroke-width="1.0" stroke-linecap="butt"/>
<line x1="709.50" y1="177.90" x2="709.50" y2="212.10" stroke="#f28118" stroke-width="2.3" stroke-linecap="butt"/>
<line x1="709.50" y1="220.50" x2="709.50" y2="254.80" stroke="#f28118" stroke-width="2.3" stroke-linecap="butt"/>
<line x1="709.50" y1="265.10" x2="709.50" y2="299.30" stroke="#f28118" stroke-width="2.3" stroke-linecap="butt"/>
<rect x="55.70" y="499.80" width="12.6" height="30.80" fill="#404040"/>
<line x1="62.00" y1="493.20" x2="62.00" y2="506.40" stroke="#111" stroke-width="1.0" stroke-linecap="butt"/>
<line x1="59.80" y1="493.20" x2="64.20" y2="493.20" stroke="#111" stroke-width="1.0" stroke-linecap="butt"/>
<line x1="59.80" y1="506.40" x2="64.20" y2="506.40" stroke="#111" stroke-width="1.0" stroke-linecap="butt"/>
<line x1="62.00" y1="530.60" x2="62.00" y2="534.40" stroke="#222" stroke-width="1.0" stroke-linecap="butt"/>
<rect x="86.10" y="493.40" width="12.6" height="37.20" fill="#404040"/>
<line x1="92.40" y1="488.40" x2="92.40" y2="498.40" stroke="#111" stroke-width="1.0" stroke-linecap="butt"/>
<line x1="90.20" y1="488.40" x2="94.60" y2="488.40" stroke="#111" stroke-width="1.0" stroke-linecap="butt"/>
<line x1="90.20" y1="498.40" x2="94.60" y2="498.40" stroke="#111" stroke-width="1.0" stroke-linecap="butt"/>
<line x1="92.40" y1="530.60" x2="92.40" y2="534.40" stroke="#222" stroke-width="1.0" stroke-linecap="butt"/>
<rect x="116.50" y="495.00" width="12.6" height="35.60" fill="#404040"/>
<line x1="122.80" y1="491.00" x2="122.80" y2="499.00" stroke="#111" stroke-width="1.0" stroke-linecap="butt"/>
<line x1="120.60" y1="491.00" x2="125.00" y2="491.00" stroke="#111" stroke-width="1.0" stroke-linecap="butt"/>
<line x1="120.60" y1="499.00" x2="125.00" y2="499.00" stroke="#111" stroke-width="1.0" stroke-linecap="butt"/>
<line x1="122.80" y1="530.60" x2="122.80" y2="534.40" stroke="#222" stroke-width="1.0" stroke-linecap="butt"/>
<rect x="146.90" y="497.80" width="12.6" height="32.80" fill="#404040"/>
<line x1="153.20" y1="491.40" x2="153.20" y2="504.20" stroke="#111" stroke-width="1.0" stroke-linecap="butt"/>
<line x1="151.00" y1="491.40" x2="155.40" y2="491.40" stroke="#111" stroke-width="1.0" stroke-linecap="butt"/>
<line x1="151.00" y1="504.20" x2="155.40" y2="504.20" stroke="#111" stroke-width="1.0" stroke-linecap="butt"/>
<line x1="153.20" y1="530.60" x2="153.20" y2="534.40" stroke="#222" stroke-width="1.0" stroke-linecap="butt"/>
<rect x="177.30" y="487.40" width="12.6" height="43.20" fill="#404040"/>
<line x1="183.60" y1="482.20" x2="183.60" y2="492.60" stroke="#111" stroke-width="1.0" stroke-linecap="butt"/>
<line x1="181.40" y1="482.20" x2="185.80" y2="482.20" stroke="#111" stroke-width="1.0" stroke-linecap="butt"/>
<line x1="181.40" y1="492.60" x2="185.80" y2="492.60" stroke="#111" stroke-width="1.0" stroke-linecap="butt"/>
<line x1="183.60" y1="530.60" x2="183.60" y2="534.40" stroke="#222" stroke-width="1.0" stroke-linecap="butt"/>
<rect x="207.70" y="483.00" width="12.6" height="47.60" fill="#404040"/>
<line x1="214.00" y1="479.60" x2="214.00" y2="486.40" stroke="#111" stroke-width="1.0" stroke-linecap="butt"/>
<line x1="211.80" y1="479.60" x2="216.20" y2="479.60" stroke="#111" stroke-width="1.0" stroke-linecap="butt"/>
<line x1="211.80" y1="486.40" x2="216.20" y2="486.40" stroke="#111" stroke-width="1.0" stroke-linecap="butt"/>
<line x1="214.00" y1="530.60" x2="214.00" y2="534.40" stroke="#222" stroke-width="1.0" stroke-linecap="butt"/>
<rect x="238.10" y="485.40" width="12.6" height="45.20" fill="#404040"/>
<line x1="244.40" y1="480.20" x2="244.40" y2="490.60" stroke="#111" stroke-width="1.0" stroke-linecap="butt"/>
<line x1="242.20" y1="480.20" x2="246.60" y2="480.20" stroke="#111" stroke-width="1.0" stroke-linecap="butt"/>
<line x1="242.20" y1="490.60" x2="246.60" y2="490.60" stroke="#111" stroke-width="1.0" stroke-linecap="butt"/>
<line x1="244.40" y1="530.60" x2="244.40" y2="534.40" stroke="#222" stroke-width="1.0" stroke-linecap="butt"/>
<rect x="268.50" y="354.20" width="12.6" height="176.40" fill="#404040"/>
<line x1="274.80" y1="349.60" x2="274.80" y2="358.80" stroke="#111" stroke-width="1.0" stroke-linecap="butt"/>
<line x1="272.60" y1="349.60" x2="277.00" y2="349.60" stroke="#111" stroke-width="1.0" stroke-linecap="butt"/>
<line x1="272.60" y1="358.80" x2="277.00" y2="358.80" stroke="#111" stroke-width="1.0" stroke-linecap="butt"/>
<line x1="274.80" y1="530.60" x2="274.80" y2="534.40" stroke="#222" stroke-width="1.0" stroke-linecap="butt"/>
<line x1="46.70" y1="450.60" x2="290.20" y2="450.60" stroke="#333" stroke-width="1.0" stroke-linecap="butt"/>
<rect x="46.7" y="334.3" width="243.50" height="196.30" fill="none" stroke="#222" stroke-width="1"/>
<line x1="42.90" y1="530.60" x2="46.70" y2="530.60" stroke="#444" stroke-width="0.8" stroke-linecap="butt"/>
<text x="40.90" y="534.40" font-size="11.3" text-anchor="end" font-weight="normal" fill="#222" >0</text>
<line x1="42.90" y1="490.60" x2="46.70" y2="490.60" stroke="#444" stroke-width="0.8" stroke-linecap="butt"/>
<text x="40.90" y="494.40" font-size="11.3" text-anchor="end" font-weight="normal" fill="#222" >1</text>
<line x1="42.90" y1="450.60" x2="46.70" y2="450.60" stroke="#444" stroke-width="0.8" stroke-linecap="butt"/>
<text x="40.90" y="454.40" font-size="11.3" text-anchor="end" font-weight="normal" fill="#222" >2</text>
<line x1="42.90" y1="410.60" x2="46.70" y2="410.60" stroke="#444" stroke-width="0.8" stroke-linecap="butt"/>
<text x="40.90" y="414.40" font-size="11.3" text-anchor="end" font-weight="normal" fill="#222" >3</text>
<line x1="42.90" y1="370.60" x2="46.70" y2="370.60" stroke="#444" stroke-width="0.8" stroke-linecap="butt"/>
<text x="40.90" y="374.40" font-size="11.3" text-anchor="end" font-weight="normal" fill="#222" >4</text>
<text x="62.00" y="545.90" font-size="10.8" text-anchor="middle" font-weight="normal" fill="#222" >0,0,0</text>
<text x="92.40" y="545.90" font-size="10.8" text-anchor="middle" font-weight="normal" fill="#222" >0,0,1</text>
<text x="122.80" y="545.90" font-size="10.8" text-anchor="middle" font-weight="normal" fill="#222" >0,1,0</text>
<text x="153.20" y="545.90" font-size="10.8" text-anchor="middle" font-weight="normal" fill="#222" >1,0,0</text>
<text x="183.60" y="545.90" font-size="10.8" text-anchor="middle" font-weight="normal" fill="#222" >0,1,1</text>
<text x="214.00" y="545.90" font-size="10.8" text-anchor="middle" font-weight="normal" fill="#222" >1,0,1</text>
<text x="244.40" y="545.90" font-size="10.8" text-anchor="middle" font-weight="normal" fill="#222" >1,1,0</text>
<text x="274.80" y="545.90" font-size="10.8" text-anchor="middle" font-weight="normal" fill="#222" >1,1,1</text>
<text x="168.45" y="565.20" font-size="13.05" text-anchor="middle" font-weight="normal" fill="#222" >miR-21, miR-20a, miR-106a</text>
<text transform="translate(29.3 431.5) rotate(-90)" font-size="13.1" text-anchor="middle" fill="#222">Peak current (µA)</text>
<rect x="348.50" y="492.97" width="12.6" height="36.63" fill="#404040"/>
<line x1="354.80" y1="488.90" x2="354.80" y2="497.04" stroke="#111" stroke-width="1.0" stroke-linecap="butt"/>
<line x1="352.60" y1="488.90" x2="357.00" y2="488.90" stroke="#111" stroke-width="1.0" stroke-linecap="butt"/>
<line x1="352.60" y1="497.04" x2="357.00" y2="497.04" stroke="#111" stroke-width="1.0" stroke-linecap="butt"/>
<line x1="354.80" y1="529.60" x2="354.80" y2="533.40" stroke="#222" stroke-width="1.0" stroke-linecap="butt"/>
<rect x="378.90" y="370.87" width="12.6" height="158.73" fill="#404040"/>
<line x1="385.20" y1="366.06" x2="385.20" y2="375.68" stroke="#111" stroke-width="1.0" stroke-linecap="butt"/>
<line x1="383.00" y1="366.06" x2="387.40" y2="366.06" stroke="#111" stroke-width="1.0" stroke-linecap="butt"/>
<line x1="383.00" y1="375.68" x2="387.40" y2="375.68" stroke="#111" stroke-width="1.0" stroke-linecap="butt"/>
<line x1="385.20" y1="529.60" x2="385.20" y2="533.40" stroke="#222" stroke-width="1.0" stroke-linecap="butt"/>
<rect x="409.30" y="369.39" width="12.6" height="160.21" fill="#404040"/>
<line x1="415.60" y1="366.25" x2="415.60" y2="372.53" stroke="#111" stroke-width="1.0" stroke-linecap="butt"/>
<line x1="413.40" y1="366.25" x2="417.80" y2="366.25" stroke="#111" stroke-width="1.0" stroke-linecap="butt"/>
<line x1="413.40" y1="372.53" x2="417.80" y2="372.53" stroke="#111" stroke-width="1.0" stroke-linecap="butt"/>
<line x1="415.60" y1="529.60" x2="415.60" y2="533.40" stroke="#222" stroke-width="1.0" stroke-linecap="butt"/>
<rect x="439.70" y="366.43" width="12.6" height="163.17" fill="#404040"/>
<line x1="446.00" y1="360.69" x2="446.00" y2="372.17" stroke="#111" stroke-width="1.0" stroke-linecap="butt"/>
<line x1="443.80" y1="360.69" x2="448.20" y2="360.69" stroke="#111" stroke-width="1.0" stroke-linecap="butt"/>
<line x1="443.80" y1="372.17" x2="448.20" y2="372.17" stroke="#111" stroke-width="1.0" stroke-linecap="butt"/>
<line x1="446.00" y1="529.60" x2="446.00" y2="533.40" stroke="#222" stroke-width="1.0" stroke-linecap="butt"/>
<rect x="470.10" y="352.74" width="12.6" height="176.86" fill="#404040"/>
<line x1="476.40" y1="347.00" x2="476.40" y2="358.48" stroke="#111" stroke-width="1.0" stroke-linecap="butt"/>
<line x1="474.20" y1="347.00" x2="478.60" y2="347.00" stroke="#111" stroke-width="1.0" stroke-linecap="butt"/>
<line x1="474.20" y1="358.48" x2="478.60" y2="358.48" stroke="#111" stroke-width="1.0" stroke-linecap="butt"/>
<line x1="476.40" y1="529.60" x2="476.40" y2="533.40" stroke="#222" stroke-width="1.0" stroke-linecap="butt"/>
<rect x="500.50" y="354.59" width="12.6" height="175.01" fill="#404040"/>
<line x1="506.80" y1="350.89" x2="506.80" y2="358.29" stroke="#111" stroke-width="1.0" stroke-linecap="butt"/>
<line x1="504.60" y1="350.89" x2="509.00" y2="350.89" stroke="#111" stroke-width="1.0" stroke-linecap="butt"/>
<line x1="504.60" y1="358.29" x2="509.00" y2="358.29" stroke="#111" stroke-width="1.0" stroke-linecap="butt"/>
<line x1="506.80" y1="529.60" x2="506.80" y2="533.40" stroke="#222" stroke-width="1.0" stroke-linecap="butt"/>
<rect x="530.90" y="353.85" width="12.6" height="175.75" fill="#404040"/>
<line x1="537.20" y1="348.67" x2="537.20" y2="359.03" stroke="#111" stroke-width="1.0" stroke-linecap="butt"/>
<line x1="535.00" y1="348.67" x2="539.40" y2="348.67" stroke="#111" stroke-width="1.0" stroke-linecap="butt"/>
<line x1="535.00" y1="359.03" x2="539.40" y2="359.03" stroke="#111" stroke-width="1.0" stroke-linecap="butt"/>
<line x1="537.20" y1="529.60" x2="537.20" y2="533.40" stroke="#222" stroke-width="1.0" stroke-linecap="butt"/>
<rect x="561.30" y="344.23" width="12.6" height="185.37" fill="#404040"/>
<line x1="567.60" y1="338.50" x2="567.60" y2="349.97" stroke="#111" stroke-width="1.0" stroke-linecap="butt"/>
<line x1="565.40" y1="338.50" x2="569.80" y2="338.50" stroke="#111" stroke-width="1.0" stroke-linecap="butt"/>
<line x1="565.40" y1="349.97" x2="569.80" y2="349.97" stroke="#111" stroke-width="1.0" stroke-linecap="butt"/>
<line x1="567.60" y1="529.60" x2="567.60" y2="533.40" stroke="#222" stroke-width="1.0" stroke-linecap="butt"/>
<line x1="339.30" y1="455.60" x2="582.50" y2="455.60" stroke="#333" stroke-width="1.0" stroke-linecap="butt"/>
<rect x="339.3" y="333.2" width="243.20" height="196.40" fill="none" stroke="#222" stroke-width="1"/>
<line x1="335.50" y1="529.60" x2="339.30" y2="529.60" stroke="#444" stroke-width="0.8" stroke-linecap="butt"/>
<text x="333.50" y="533.40" font-size="11.3" text-anchor="end" font-weight="normal" fill="#222" >0</text>
<line x1="335.50" y1="492.60" x2="339.30" y2="492.60" stroke="#444" stroke-width="0.8" stroke-linecap="butt"/>
<text x="333.50" y="496.40" font-size="11.3" text-anchor="end" font-weight="normal" fill="#222" >1</text>
<line x1="335.50" y1="455.60" x2="339.30" y2="455.60" stroke="#444" stroke-width="0.8" stroke-linecap="butt"/>
<text x="333.50" y="459.40" font-size="11.3" text-anchor="end" font-weight="normal" fill="#222" >2</text>
<line x1="335.50" y1="418.60" x2="339.30" y2="418.60" stroke="#444" stroke-width="0.8" stroke-linecap="butt"/>
<text x="333.50" y="422.40" font-size="11.3" text-anchor="end" font-weight="normal" fill="#222" >3</text>
<line x1="335.50" y1="381.60" x2="339.30" y2="381.60" stroke="#444" stroke-width="0.8" stroke-linecap="butt"/>
<text x="333.50" y="385.40" font-size="11.3" text-anchor="end" font-weight="normal" fill="#222" >4</text>
<line x1="335.50" y1="344.60" x2="339.30" y2="344.60" stroke="#444" stroke-width="0.8" stroke-linecap="butt"/>
<text x="333.50" y="348.40" font-size="11.3" text-anchor="end" font-weight="normal" fill="#222" >5</text>
<text x="354.80" y="544.90" font-size="10.8" text-anchor="middle" font-weight="normal" fill="#222" >0,0,0</text>
<text x="385.20" y="544.90" font-size="10.8" text-anchor="middle" font-weight="normal" fill="#222" >0,0,1</text>
<text x="415.60" y="544.90" font-size="10.8" text-anchor="middle" font-weight="normal" fill="#222" >0,1,0</text>
<text x="446.00" y="544.90" font-size="10.8" text-anchor="middle" font-weight="normal" fill="#222" >1,0,0</text>
<text x="476.40" y="544.90" font-size="10.8" text-anchor="middle" font-weight="normal" fill="#222" >0,1,1</text>
<text x="506.80" y="544.90" font-size="10.8" text-anchor="middle" font-weight="normal" fill="#222" >1,0,1</text>
<text x="537.20" y="544.90" font-size="10.8" text-anchor="middle" font-weight="normal" fill="#222" >1,1,0</text>
<text x="567.60" y="544.90" font-size="10.8" text-anchor="middle" font-weight="normal" fill="#222" >1,1,1</text>
<text x="460.90" y="564.20" font-size="13.05" text-anchor="middle" font-weight="normal" fill="#222" >miR-21, miR-20a, miR-106a</text>
<text transform="translate(321.6 430.4) rotate(-90)" font-size="13.1" text-anchor="middle" fill="#222">Peak current (µA)</text>
<rect x="610.5" y="360.1" width="64.70" height="209.60" fill="#d0cece"/>
<rect x="675.2" y="334.5" width="43.40" height="25.60" fill="#7f7f7f"/>
<rect x="696.8" y="386.30" width="21.80" height="183.40" fill="#ed7d31"/>
<rect x="675.2" y="543.50" width="43.40" height="26.20" fill="#ed7d31"/>
<rect x="610.5" y="334.5" width="108.10" height="235.20" fill="none" stroke="#7a7a7a" stroke-width="0.8"/>
<text x="621.60" y="351.00" font-size="9.2" text-anchor="middle" font-weight="bold" fill="#000" >X</text>
<text x="642.40" y="351.00" font-size="9.2" text-anchor="middle" font-weight="bold" fill="#000" >Y</text>
<text x="664.60" y="351.00" font-size="9.2" text-anchor="middle" font-weight="bold" fill="#000" >Z</text>
<text x="686.00" y="350.20" font-size="7.0" text-anchor="middle" font-weight="bold" fill="#fff" >AND</text>
<text x="707.30" y="350.20" font-size="7.0" text-anchor="middle" font-weight="bold" fill="#fff" >OR</text>
<text x="621.60" y="376.50" font-size="9.4" text-anchor="middle" font-weight="bold" fill="#111" >0</text>
<text x="642.40" y="376.50" font-size="9.4" text-anchor="middle" font-weight="bold" fill="#111" >0</text>
<text x="664.60" y="376.50" font-size="9.4" text-anchor="middle" font-weight="bold" fill="#111" >0</text>
<text x="621.60" y="402.70" font-size="9.4" text-anchor="middle" font-weight="bold" fill="#111" >0</text>
<text x="642.40" y="402.70" font-size="9.4" text-anchor="middle" font-weight="bold" fill="#111" >0</text>
<text x="664.60" y="402.70" font-size="9.4" text-anchor="middle" font-weight="bold" fill="#111" >1</text>
<text x="621.60" y="428.90" font-size="9.4" text-anchor="middle" font-weight="bold" fill="#111" >0</text>
<text x="642.40" y="428.90" font-size="9.4" text-anchor="middle" font-weight="bold" fill="#111" >1</text>
<text x="664.60" y="428.90" font-size="9.4" text-anchor="middle" font-weight="bold" fill="#111" >0</text>
<text x="621.60" y="455.10" font-size="9.4" text-anchor="middle" font-weight="bold" fill="#111" >1</text>
<text x="642.40" y="455.10" font-size="9.4" text-anchor="middle" font-weight="bold" fill="#111" >0</text>
<text x="664.60" y="455.10" font-size="9.4" text-anchor="middle" font-weight="bold" fill="#111" >0</text>
<text x="621.60" y="481.30" font-size="9.4" text-anchor="middle" font-weight="bold" fill="#111" >0</text>
<text x="642.40" y="481.30" font-size="9.4" text-anchor="middle" font-weight="bold" fill="#111" >1</text>
<text x="664.60" y="481.30" font-size="9.4" text-anchor="middle" font-weight="bold" fill="#111" >1</text>
<text x="621.60" y="507.50" font-size="9.4" text-anchor="middle" font-weight="bold" fill="#111" >1</text>
<text x="642.40" y="507.50" font-size="9.4" text-anchor="middle" font-weight="bold" fill="#111" >0</text>
<text x="664.60" y="507.50" font-size="9.4" text-anchor="middle" font-weight="bold" fill="#111" >1</text>
<text x="621.60" y="533.70" font-size="9.4" text-anchor="middle" font-weight="bold" fill="#111" >1</text>
<text x="642.40" y="533.70" font-size="9.4" text-anchor="middle" font-weight="bold" fill="#111" >1</text>
<text x="664.60" y="533.70" font-size="9.4" text-anchor="middle" font-weight="bold" fill="#111" >0</text>
<text x="621.60" y="559.90" font-size="9.4" text-anchor="middle" font-weight="bold" fill="#111" >1</text>
<text x="642.40" y="559.90" font-size="9.4" text-anchor="middle" font-weight="bold" fill="#111" >1</text>
<text x="664.60" y="559.90" font-size="9.4" text-anchor="middle" font-weight="bold" fill="#111" >1</text>
<rect x="746.9" y="8.9" width="251.5" height="191.8" fill="#141414"/>
<rect x="755" y="18" width="23" height="178" fill="#fff" fill-opacity="0.07" filter="url(#f2)"/>
<rect x="756" y="24" width="21" height="17" fill="#fff" fill-opacity="0.2" filter="url(#f12)"/>
<rect x="756" y="48" width="21" height="30" fill="#fff" fill-opacity="0.42" filter="url(#f12)"/>
<rect x="756" y="78" width="21" height="14" fill="#fff" fill-opacity="0.16" filter="url(#f12)"/>
<path d="M756.5 25.5 Q759.0 26.6 763.0 26.6 L771.5 26.5 Q775.0 26.3 776.5 25.2" stroke="#fff" stroke-width="3.8" fill="none" stroke-linecap="round" stroke-linejoin="round" filter="url(#f05)"/>
<path d="M754.0 21.6 Q754.6 24.9 758.0 25.9" stroke="#fff" stroke-opacity="0.85" stroke-width="1.5" fill="none" stroke-linecap="round" filter="url(#f05)"/>
<path d="M756.5 31.8 Q759.0 32.9 763.0 32.9 L771.5 32.8 Q775.0 32.6 776.5 31.5" stroke="#fff" stroke-width="3.0" fill="none" stroke-linecap="round" stroke-linejoin="round" filter="url(#f05)"/>
<path d="M754.0 27.9 Q754.6 31.2 758.0 32.2" stroke="#fff" stroke-opacity="0.85" stroke-width="1.5" fill="none" stroke-linecap="round" filter="url(#f05)"/>
<path d="M756.5 38.1 Q759.0 39.2 763.0 39.2 L771.5 39.1 Q775.0 38.9 776.5 37.8" stroke="#fff" stroke-width="3.0" fill="none" stroke-linecap="round" stroke-linejoin="round" filter="url(#f05)"/>
<path d="M754.0 34.2 Q754.6 37.5 758.0 38.5" stroke="#fff" stroke-opacity="0.85" stroke-width="1.5" fill="none" stroke-linecap="round" filter="url(#f05)"/>
<path d="M756.5 50.7 Q759.0 51.8 763.0 51.8 L771.5 51.7 Q775.0 51.5 776.5 50.4" stroke="#fff" stroke-width="3.0" fill="none" stroke-linecap="round" stroke-linejoin="round" filter="url(#f05)"/>
<path d="M754.0 48.3 Q754.6 50.1 758.0 51.1" stroke="#fff" stroke-opacity="0.85" stroke-width="1.5" fill="none" stroke-linecap="round" filter="url(#f05)"/>
<path d="M756.5 54.6 Q759.0 55.7 763.0 55.7 L771.5 55.6 Q775.0 55.4 776.5 54.3" stroke="#fff" stroke-width="3.0" fill="none" stroke-linecap="round" stroke-linejoin="round" filter="url(#f05)"/>
<path d="M754.0 52.2 Q754.6 54.0 758.0 55.0" stroke="#fff" stroke-opacity="0.85" stroke-width="1.5" fill="none" stroke-linecap="round" filter="url(#f05)"/>
<path d="M756.5 58.5 Q759.0 59.6 763.0 59.6 L771.5 59.5 Q775.0 59.3 776.5 58.2" stroke="#fff" stroke-width="3.0" fill="none" stroke-linecap="round" stroke-linejoin="round" filter="url(#f05)"/>
<path d="M754.0 56.1 Q754.6 57.9 758.0 58.9" stroke="#fff" stroke-opacity="0.85" stroke-width="1.5" fill="none" stroke-linecap="round" filter="url(#f05)"/>
<path d="M756.5 63.0 Q759.0 64.1 763.0 64.1 L771.5 64.0 Q775.0 63.8 776.5 62.7" stroke="#fff" stroke-width="3.0" fill="none" stroke-linecap="round" stroke-linejoin="round" filter="url(#f05)"/>
<path d="M754.0 60.6 Q754.6 62.4 758.0 63.4" stroke="#fff" stroke-opacity="0.85" stroke-width="1.5" fill="none" stroke-linecap="round" filter="url(#f05)"/>
<path d="M756.5 68.2 Q759.0 69.3 763.0 69.3 L771.5 69.2 Q775.0 69.0 776.5 67.9" stroke="#fff" stroke-width="3.0" fill="none" stroke-linecap="round" stroke-linejoin="round" filter="url(#f05)"/>
<path d="M754.0 65.8 Q754.6 67.6 758.0 68.6" stroke="#fff" stroke-opacity="0.85" stroke-width="1.5" fill="none" stroke-linecap="round" filter="url(#f05)"/>
<path d="M756.5 73.7 Q759.0 74.8 763.0 74.8 L772.0 74.7 Q775.5 74.5 777.0 73.4" stroke="#fff" stroke-width="4.4" fill="none" stroke-linecap="round" stroke-linejoin="round" filter="url(#f05)"/>
<path d="M754.0 69.8 Q754.6 73.1 758.0 74.1" stroke="#fff" stroke-opacity="0.85" stroke-width="1.5" fill="none" stroke-linecap="round" filter="url(#f05)"/>
<g opacity="0.8">
<path d="M756.5 80.1 Q759.0 81.2 763.0 81.2 L772.0 81.1 Q775.5 80.9 777.0 79.8" stroke="#fff" stroke-width="3.0" fill="none" stroke-linecap="round" stroke-linejoin="round" filter="url(#f08)"/>
<path d="M754.0 77.7 Q754.6 79.5 758.0 80.5" stroke="#fff" stroke-opacity="0.85" stroke-width="1.5" fill="none" stroke-linecap="round" filter="url(#f08)"/>
</g>
<g opacity="0.9">
<path d="M756.5 88.9 Q759.0 90.0 763.0 90.0 L772.5 89.9 Q776.0 89.7 777.5 88.6" stroke="#fff" stroke-width="3.8" fill="none" stroke-linecap="round" stroke-linejoin="round" filter="url(#f08)"/>
<path d="M754.0 85.0 Q754.6 88.3 758.0 89.3" stroke="#fff" stroke-opacity="0.85" stroke-width="1.5" fill="none" stroke-linecap="round" filter="url(#f08)"/>
</g>
<g opacity="0.72">
<path d="M757.5 107.8 Q760.0 108.9 764.0 108.9 L773.5 108.8 Q777.0 108.6 778.5 107.5" stroke="#fff" stroke-width="3.6" fill="none" stroke-linecap="round" stroke-linejoin="round" filter="url(#f12)"/>
<path d="M755.0 103.9 Q755.6 107.2 759.0 108.2" stroke="#fff" stroke-opacity="0.85" stroke-width="1.5" fill="none" stroke-linecap="round" filter="url(#f12)"/>
</g>
<path d="M757.5 151.2 Q760.0 152.3 764.0 152.3 L775.0 152.2 Q778.5 152.0 780.0 150.9" stroke="#fff" stroke-width="4.4" fill="none" stroke-linecap="round" stroke-linejoin="round" filter="url(#f08)"/>
<path d="M755.0 147.3 Q755.6 150.6 759.0 151.6" stroke="#fff" stroke-opacity="0.85" stroke-width="1.5" fill="none" stroke-linecap="round" filter="url(#f08)"/>
<rect x="790.0" y="132.1" width="21.0" height="5.8" rx="2.9" fill="#c4c4c4" fill-opacity="0.95" filter="url(#f15)"/>
<rect x="818.0" y="136.9" width="22.0" height="5.8" rx="2.9" fill="#b0b0b0" fill-opacity="0.9" filter="url(#f15)"/>
<rect x="846.0" y="129.1" width="24.0" height="5.8" rx="2.9" fill="#cccccc" fill-opacity="0.95" filter="url(#f15)"/>
<rect x="879.0" y="165.7" width="22.0" height="5.2" rx="2.6" fill="#909090" fill-opacity="0.9" filter="url(#f15)"/>
<rect x="906.0" y="166.8" width="26.0" height="5.4" rx="2.7" fill="#a2a2a2" fill-opacity="0.9" filter="url(#f15)"/>
<rect x="938.5" y="86" width="21" height="32" rx="4" fill="url(#sm7)" filter="url(#f2)"/>
<path d="M968 84 Q972 80 990 74 Q993 74 992.5 80 L992 104 Q991 117 982 117.5 L970 117.5 Q967.5 117 967.5 112 Z" fill="url(#sm8)" filter="url(#f2)"/>
<rect x="939.0" y="113.8" width="20.5" height="4.8" rx="2.4" fill="#fff" fill-opacity="0.95" filter="url(#f12)"/>
<rect x="968.5" y="113.1" width="20.5" height="4.2" rx="2.1" fill="#fff" fill-opacity="0.7" filter="url(#f12)"/>
<rect x="939.0" y="121.5" width="20.0" height="9" rx="4.5" fill="#fff" fill-opacity="0.12" filter="url(#f2)"/>
<rect x="940" y="120" width="18" height="76" fill="#fff" fill-opacity="0.025" filter="url(#f2)"/>
<rect x="969" y="120" width="20" height="76" fill="#fff" fill-opacity="0.02" filter="url(#f2)"/>
<rect x="944.0" y="167.0" width="12.0" height="4" rx="2.0" fill="#fff" fill-opacity="0.07" filter="url(#f2)"/>
<rect x="974.0" y="167.0" width="12.0" height="4" rx="2.0" fill="#fff" fill-opacity="0.07" filter="url(#f2)"/>
<rect x="745.6" y="208.6" width="251.6" height="219.1" fill="url(#g2bg)"/>
<rect x="754" y="216" width="26" height="205" fill="#fff" fill-opacity="0.07" filter="url(#f2)"/>
<rect x="755" y="228" width="24" height="20" fill="#fff" fill-opacity="0.2" filter="url(#f12)"/>
<rect x="755" y="256" width="24" height="32" fill="#fff" fill-opacity="0.42" filter="url(#f12)"/>
<rect x="755" y="288" width="24" height="18" fill="#fff" fill-opacity="0.18" filter="url(#f12)"/>
<path d="M755.5 229.9 Q758.0 231.0 762.0 231.0 L774.5 230.9 Q778.0 230.7 779.5 229.6" stroke="#fff" stroke-width="3.9000000000000004" fill="none" stroke-linecap="round" stroke-linejoin="round" filter="url(#f05)"/>
<path d="M753.0 227.0 Q753.6 229.3 757.0 230.3" stroke="#fff" stroke-opacity="0.85" stroke-width="1.5" fill="none" stroke-linecap="round" filter="url(#f05)"/>
<path d="M755.5 236.2 Q758.0 237.3 762.0 237.3 L774.5 237.2 Q778.0 237.0 779.5 235.9" stroke="#fff" stroke-width="3.1" fill="none" stroke-linecap="round" stroke-linejoin="round" filter="url(#f05)"/>
<path d="M753.0 233.3 Q753.6 235.6 757.0 236.6" stroke="#fff" stroke-opacity="0.85" stroke-width="1.5" fill="none" stroke-linecap="round" filter="url(#f05)"/>
<path d="M755.5 244.4 Q758.0 245.5 762.0 245.5 L774.5 245.4 Q778.0 245.2 779.5 244.1" stroke="#fff" stroke-width="3.1" fill="none" stroke-linecap="round" stroke-linejoin="round" filter="url(#f05)"/>
<path d="M753.0 241.5 Q753.6 243.8 757.0 244.8" stroke="#fff" stroke-opacity="0.85" stroke-width="1.5" fill="none" stroke-linecap="round" filter="url(#f05)"/>
<path d="M755.5 258.8 Q758.0 259.9 762.0 259.9 L774.5 259.8 Q778.0 259.6 779.5 258.5" stroke="#fff" stroke-width="3.0" fill="none" stroke-linecap="round" stroke-linejoin="round" filter="url(#f05)"/>
<path d="M753.0 257.2 Q753.6 258.2 757.0 259.2" stroke="#fff" stroke-opacity="0.85" stroke-width="1.5" fill="none" stroke-linecap="round" filter="url(#f05)"/>
<path d="M755.5 263.3 Q758.0 264.4 762.0 264.4 L774.5 264.3 Q778.0 264.1 779.5 263.0" stroke="#fff" stroke-width="3.0" fill="none" stroke-linecap="round" stroke-linejoin="round" filter="url(#f05)"/>
<path d="M753.0 261.7 Q753.6 262.7 757.0 263.7" stroke="#fff" stroke-opacity="0.85" stroke-width="1.5" fill="none" stroke-linecap="round" filter="url(#f05)"/>
<path d="M755.5 267.8 Q758.0 268.9 762.0 268.9 L774.5 268.8 Q778.0 268.6 779.5 267.5" stroke="#fff" stroke-width="3.0" fill="none" stroke-linecap="round" stroke-linejoin="round" filter="url(#f05)"/>
<path d="M753.0 266.2 Q753.6 267.2 757.0 268.2" stroke="#fff" stroke-opacity="0.85" stroke-width="1.5" fill="none" stroke-linecap="round" filter="url(#f05)"/>
<path d="M755.5 273.2 Q758.0 274.3 762.0 274.3 L774.5 274.2 Q778.0 274.0 779.5 272.9" stroke="#fff" stroke-width="3.0" fill="none" stroke-linecap="round" stroke-linejoin="round" filter="url(#f05)"/>
<path d="M753.0 271.6 Q753.6 272.6 757.0 273.6" stroke="#fff" stroke-opacity="0.85" stroke-width="1.5" fill="none" stroke-linecap="round" filter="url(#f05)"/>
<path d="M755.5 278.6 Q758.0 279.7 762.0 279.7 L774.5 279.6 Q778.0 279.4 779.5 278.3" stroke="#fff" stroke-width="3.0" fill="none" stroke-linecap="round" stroke-linejoin="round" filter="url(#f05)"/>
<path d="M753.0 277.0 Q753.6 278.0 757.0 279.0" stroke="#fff" stroke-opacity="0.85" stroke-width="1.5" fill="none" stroke-linecap="round" filter="url(#f05)"/>
<path d="M755.5 285.1 Q758.0 286.2 762.0 286.2 L775.0 286.1 Q778.5 285.9 780.0 284.8" stroke="#fff" stroke-width="4.8" fill="none" stroke-linecap="round" stroke-linejoin="round" filter="url(#f05)"/>
<path d="M753.0 281.2 Q753.6 284.5 757.0 285.5" stroke="#fff" stroke-opacity="0.85" stroke-width="1.5" fill="none" stroke-linecap="round" filter="url(#f05)"/>
<g opacity="0.85">
<path d="M755.5 292.3 Q758.0 293.4 762.0 293.4 L775.0 293.3 Q778.5 293.1 780.0 292.0" stroke="#fff" stroke-width="3.2" fill="none" stroke-linecap="round" stroke-linejoin="round" filter="url(#f08)"/>
<path d="M753.0 289.9 Q753.6 291.7 757.0 292.7" stroke="#fff" stroke-opacity="0.85" stroke-width="1.5" fill="none" stroke-linecap="round" filter="url(#f08)"/>
</g>
<g opacity="0.95">
<path d="M755.5 302.9 Q758.0 304.0 762.0 304.0 L775.0 303.9 Q778.5 303.7 780.0 302.6" stroke="#fff" stroke-width="4.2" fill="none" stroke-linecap="round" stroke-linejoin="round" filter="url(#f08)"/>
<path d="M753.0 299.0 Q753.6 302.3 757.0 303.3" stroke="#fff" stroke-opacity="0.85" stroke-width="1.5" fill="none" stroke-linecap="round" filter="url(#f08)"/>
</g>
<g opacity="0.85">
<path d="M756.5 324.6 Q759.0 325.7 763.0 325.7 L774.5 325.6 Q778.0 325.4 779.5 324.3" stroke="#fff" stroke-width="4.0" fill="none" stroke-linecap="round" stroke-linejoin="round" filter="url(#f12)"/>
<path d="M754.0 320.7 Q754.6 324.0 758.0 325.0" stroke="#fff" stroke-opacity="0.85" stroke-width="1.5" fill="none" stroke-linecap="round" filter="url(#f12)"/>
</g>
<path d="M756.5 374.4 Q759.0 375.5 763.0 375.5 L777.5 375.4 Q781.0 375.2 782.5 374.1" stroke="#fff" stroke-width="5.2" fill="none" stroke-linecap="round" stroke-linejoin="round" filter="url(#f08)"/>
<path d="M754.0 370.5 Q754.6 373.8 758.0 374.8" stroke="#fff" stroke-opacity="0.85" stroke-width="1.5" fill="none" stroke-linecap="round" filter="url(#f08)"/>
<path d="M789 300 Q790 293 797 293 L812 294 Q818 295 818.5 302 L819 336 Q819 342 812 342 L796 342 Q790 342 789.5 335 Z" fill="url(#sm)" filter="url(#f2)"/>
<rect x="792.0" y="337.2" width="26.0" height="4.5" rx="2.2" fill="#fff" fill-opacity="0.55" filter="url(#f12)"/>
<rect x="793.0" y="359.3" width="23.0" height="5" rx="2.5" fill="#fff" fill-opacity="0.13" filter="url(#f2)"/>
<rect x="798.0" y="402.5" width="17.0" height="4" rx="2.0" fill="#fff" fill-opacity="0.16" filter="url(#f2)"/>
<rect x="791" y="345" width="26" height="80" fill="#fff" fill-opacity="0.035" filter="url(#f2)"/>
<rect x="826.0" y="335.8" width="25.0" height="6" rx="3.0" fill="#c4c4c4" fill-opacity="0.9" filter="url(#f12)"/>
<rect x="825.5" y="326.9" width="26.5" height="8.2" rx="4.1" fill="#fff" fill-opacity="1" filter="url(#f08)"/>
<rect x="827.0" y="351.9" width="23.0" height="5" rx="2.5" fill="#fff" fill-opacity="0.25" filter="url(#f2)"/>
<rect x="827.0" y="359.3" width="23.0" height="5" rx="2.5" fill="#fff" fill-opacity="0.22" filter="url(#f2)"/>
<rect x="827" y="342" width="23" height="30" fill="#fff" fill-opacity="0.08" filter="url(#f2)"/>
<rect x="828.0" y="401.0" width="20.0" height="4" rx="2.0" fill="#fff" fill-opacity="0.07" filter="url(#f2)"/>
<rect x="860" y="327" width="27.5" height="17" rx="5" fill="#e2e2e2" filter="url(#f12)"/>
<rect x="862.0" y="343.0" width="24.0" height="5" rx="2.5" fill="#bdbdbd" fill-opacity="0.8" filter="url(#f12)"/>
<rect x="862" y="350" width="24" height="75" fill="#fff" fill-opacity="0.03" filter="url(#f2)"/>
<rect x="895.0" y="340.4" width="26.0" height="5.5" rx="2.8" fill="#bdbdbd" fill-opacity="0.85" filter="url(#f12)"/>
<rect x="894.0" y="333.3" width="27.5" height="6.6" rx="3.3" fill="#fff" fill-opacity="1" filter="url(#f08)"/>
<rect x="897.0" y="357.2" width="22.0" height="5" rx="2.5" fill="#fff" fill-opacity="0.2" filter="url(#f2)"/>
<rect x="927.0" y="333.1" width="28.5" height="7" rx="3.5" fill="#fff" fill-opacity="1" filter="url(#f08)"/>
<rect x="930.0" y="397.0" width="20.0" height="4" rx="2.0" fill="#fff" fill-opacity="0.05" filter="url(#f2)"/>
<path d="M962.0 336.5 Q963.5 338.0 968.0 338.0 L982.5 338.0 Q987.0 338.0 988.5 336.5" stroke="#fff" stroke-opacity="1" stroke-width="6.4" fill="none" stroke-linecap="round" filter="url(#f08)"/>
<rect x="964.0" y="351.1" width="22.0" height="4.5" rx="2.2" fill="#fff" fill-opacity="0.2" filter="url(#f2)"/>
<rect x="963.0" y="399.0" width="18.0" height="5" rx="2.5" fill="#fff" fill-opacity="0.3" filter="url(#f2)"/>
<rect x="745.8" y="436.1" width="251.4" height="161.4" fill="url(#g3bg)"/>
<rect x="752" y="444" width="21" height="148" fill="#fff" fill-opacity="0.05" filter="url(#f2)"/>
<rect x="753" y="470" width="20" height="30" fill="#fff" fill-opacity="0.3" filter="url(#f12)"/>
<path d="M754.5 449.3 Q757.0 450.4 761.0 450.4 L767.5 450.3 Q771.0 450.1 772.5 449.0" stroke="#fff" stroke-width="2.5" fill="none" stroke-linecap="round" stroke-linejoin="round" filter="url(#f05)"/>
<path d="M752.0 448.5 Q752.6 448.7 756.0 449.7" stroke="#fff" stroke-opacity="0.85" stroke-width="1.5" fill="none" stroke-linecap="round" filter="url(#f05)"/>
<path d="M754.5 454.1 Q757.0 455.2 761.0 455.2 L767.5 455.1 Q771.0 454.9 772.5 453.8" stroke="#fff" stroke-width="2.5" fill="none" stroke-linecap="round" stroke-linejoin="round" filter="url(#f05)"/>
<path d="M752.0 453.3 Q752.6 453.5 756.0 454.5" stroke="#fff" stroke-opacity="0.85" stroke-width="1.5" fill="none" stroke-linecap="round" filter="url(#f05)"/>
<path d="M754.5 459.3 Q757.0 460.4 761.0 460.4 L767.5 460.3 Q771.0 460.1 772.5 459.0" stroke="#fff" stroke-width="2.5" fill="none" stroke-linecap="round" stroke-linejoin="round" filter="url(#f05)"/>
<path d="M752.0 458.5 Q752.6 458.7 756.0 459.7" stroke="#fff" stroke-opacity="0.85" stroke-width="1.5" fill="none" stroke-linecap="round" filter="url(#f05)"/>
<path d="M754.5 472.3 Q757.0 473.4 761.0 473.4 L767.5 473.3 Q771.0 473.1 772.5 472.0" stroke="#fff" stroke-width="2.2" fill="none" stroke-linecap="round" stroke-linejoin="round" filter="url(#f05)"/>
<path d="M752.0 471.7 Q752.6 471.7 756.0 472.7" stroke="#fff" stroke-opacity="0.85" stroke-width="1.5" fill="none" stroke-linecap="round" filter="url(#f05)"/>
<path d="M754.5 476.1 Q757.0 477.2 761.0 477.2 L767.5 477.1 Q771.0 476.9 772.5 475.8" stroke="#fff" stroke-width="2.2" fill="none" stroke-linecap="round" stroke-linejoin="round" filter="url(#f05)"/>
<path d="M752.0 475.5 Q752.6 475.5 756.0 476.5" stroke="#fff" stroke-opacity="0.85" stroke-width="1.5" fill="none" stroke-linecap="round" filter="url(#f05)"/>
<path d="M754.5 479.8 Q757.0 480.9 761.0 480.9 L767.5 480.8 Q771.0 480.6 772.5 479.5" stroke="#fff" stroke-width="2.2" fill="none" stroke-linecap="round" stroke-linejoin="round" filter="url(#f05)"/>
<path d="M752.0 479.2 Q752.6 479.2 756.0 480.2" stroke="#fff" stroke-opacity="0.85" stroke-width="1.5" fill="none" stroke-linecap="round" filter="url(#f05)"/>
<path d="M754.5 483.6 Q757.0 484.7 761.0 484.7 L767.5 484.6 Q771.0 484.4 772.5 483.3" stroke="#fff" stroke-width="2.2" fill="none" stroke-linecap="round" stroke-linejoin="round" filter="url(#f05)"/>
<path d="M752.0 483.0 Q752.6 483.0 756.0 484.0" stroke="#fff" stroke-opacity="0.85" stroke-width="1.5" fill="none" stroke-linecap="round" filter="url(#f05)"/>
<path d="M754.5 487.3 Q757.0 488.4 761.0 488.4 L767.5 488.3 Q771.0 488.1 772.5 487.0" stroke="#fff" stroke-width="2.2" fill="none" stroke-linecap="round" stroke-linejoin="round" filter="url(#f05)"/>
<path d="M752.0 486.7 Q752.6 486.7 756.0 487.7" stroke="#fff" stroke-opacity="0.85" stroke-width="1.5" fill="none" stroke-linecap="round" filter="url(#f05)"/>
<path d="M754.5 491.4 Q757.0 492.5 761.0 492.5 L767.5 492.4 Q771.0 492.2 772.5 491.1" stroke="#fff" stroke-width="3.0" fill="none" stroke-linecap="round" stroke-linejoin="round" filter="url(#f05)"/>
<path d="M752.0 490.6 Q752.6 490.8 756.0 491.8" stroke="#fff" stroke-opacity="0.85" stroke-width="1.5" fill="none" stroke-linecap="round" filter="url(#f05)"/>
<path d="M754.5 496.8 Q757.0 497.9 761.0 497.9 L767.5 497.8 Q771.0 497.6 772.5 496.5" stroke="#fff" stroke-width="2.4" fill="none" stroke-linecap="round" stroke-linejoin="round" filter="url(#f05)"/>
<path d="M752.0 496.0 Q752.6 496.2 756.0 497.2" stroke="#fff" stroke-opacity="0.85" stroke-width="1.5" fill="none" stroke-linecap="round" filter="url(#f05)"/>
<path d="M754.5 504.2 Q757.0 505.3 761.0 505.3 L767.5 505.2 Q771.0 505.0 772.5 503.9" stroke="#fff" stroke-width="2.4" fill="none" stroke-linecap="round" stroke-linejoin="round" filter="url(#f05)"/>
<path d="M752.0 503.4 Q752.6 503.6 756.0 504.6" stroke="#fff" stroke-opacity="0.85" stroke-width="1.5" fill="none" stroke-linecap="round" filter="url(#f05)"/>
<g opacity="0.9">
<path d="M754.5 520.4 Q757.0 521.5 761.0 521.5 L768.0 521.4 Q771.5 521.2 773.0 520.1" stroke="#fff" stroke-width="3.0" fill="none" stroke-linecap="round" stroke-linejoin="round" filter="url(#f08)"/>
<path d="M752.0 519.0 Q752.6 519.8 756.0 520.8" stroke="#fff" stroke-opacity="0.85" stroke-width="1.5" fill="none" stroke-linecap="round" filter="url(#f08)"/>
</g>
<path d="M754.5 556.6 Q757.0 557.7 761.0 557.7 L769.0 557.6 Q772.5 557.4 774.0 556.3" stroke="#fff" stroke-width="3.6" fill="none" stroke-linecap="round" stroke-linejoin="round" filter="url(#f08)"/>
<path d="M752.0 555.2 Q752.6 556.0 756.0 557.0" stroke="#fff" stroke-opacity="0.85" stroke-width="1.5" fill="none" stroke-linecap="round" filter="url(#f08)"/>
<path d="M784.8 492.9 Q786.3 492.6 790.8 492.4 L795.4 491.6 Q799.9 491.4 801.4 491.1" stroke="#ececec" stroke-opacity="0.95" stroke-width="3.8" fill="none" stroke-linecap="round" filter="url(#f08)"/>
<rect x="811.0" y="567.2" width="15.0" height="3.4" rx="1.7" fill="#fff" fill-opacity="0.18" filter="url(#f12)"/>
<path d="M835.2 487.3 Q840.4 489.2 849.6 486.7" stroke="#fff" stroke-width="4.8" fill="none" stroke-linecap="round" stroke-linejoin="round" filter="url(#f05)"/>
<path d="M833.6 482.1 Q833.6 485.1 835.4 486.8" stroke="#fff" stroke-opacity="0.65" stroke-width="1.8" fill="none" stroke-linecap="round" filter="url(#f08)"/>
<rect x="833.8" y="479.6" width="17.2" height="16" fill="#fff" fill-opacity="0.05" filter="url(#f2)"/>
<path d="M858.9 482.0 Q863.8 483.9 872.6 481.4" stroke="#fff" stroke-width="4.8" fill="none" stroke-linecap="round" stroke-linejoin="round" filter="url(#f05)"/>
<path d="M857.3 476.8 Q857.3 479.8 859.1 481.5" stroke="#fff" stroke-opacity="0.65" stroke-width="1.8" fill="none" stroke-linecap="round" filter="url(#f08)"/>
<rect x="857.5" y="474.3" width="16.5" height="16" fill="#fff" fill-opacity="0.05" filter="url(#f2)"/>
<path d="M880.6 495.6 Q885.6 497.5 894.6 495.0" stroke="#fff" stroke-width="4.8" fill="none" stroke-linecap="round" stroke-linejoin="round" filter="url(#f05)"/>
<path d="M879.0 490.4 Q879.0 493.4 880.8 495.1" stroke="#fff" stroke-opacity="0.65" stroke-width="1.8" fill="none" stroke-linecap="round" filter="url(#f08)"/>
<rect x="879.2" y="487.9" width="16.8" height="16" fill="#fff" fill-opacity="0.05" filter="url(#f2)"/>
<path d="M904.0 488.7 Q908.6 490.6 917.2 488.1" stroke="#fff" stroke-width="4.8" fill="none" stroke-linecap="round" stroke-linejoin="round" filter="url(#f05)"/>
<path d="M902.4 483.5 Q902.4 486.5 904.2 488.2" stroke="#fff" stroke-opacity="0.65" stroke-width="1.8" fill="none" stroke-linecap="round" filter="url(#f08)"/>
<rect x="902.6" y="481.0" width="16.0" height="16" fill="#fff" fill-opacity="0.05" filter="url(#f2)"/>
<path d="M925.4 498.9 Q929.8 500.8 938.1 498.3" stroke="#fff" stroke-width="4.8" fill="none" stroke-linecap="round" stroke-linejoin="round" filter="url(#f05)"/>
<path d="M923.8 493.7 Q923.8 496.7 925.6 498.4" stroke="#fff" stroke-opacity="0.65" stroke-width="1.8" fill="none" stroke-linecap="round" filter="url(#f08)"/>
<rect x="924.0" y="491.2" width="15.5" height="16" fill="#fff" fill-opacity="0.05" filter="url(#f2)"/>
<path d="M948.4 497.3 Q952.8 499.2 961.1 496.7" stroke="#fff" stroke-width="4.8" fill="none" stroke-linecap="round" stroke-linejoin="round" filter="url(#f05)"/>
<path d="M946.8 492.1 Q946.8 495.1 948.6 496.8" stroke="#fff" stroke-opacity="0.65" stroke-width="1.8" fill="none" stroke-linecap="round" filter="url(#f08)"/>
<rect x="947.0" y="489.6" width="15.5" height="16" fill="#fff" fill-opacity="0.05" filter="url(#f2)"/>
<path d="M969.9 499.5 Q976.8 501.4 987.6 498.9" stroke="#fff" stroke-width="4.8" fill="none" stroke-linecap="round" stroke-linejoin="round" filter="url(#f05)"/>
<path d="M968.3 494.3 Q968.3 497.3 970.1 499.0" stroke="#fff" stroke-opacity="0.65" stroke-width="1.8" fill="none" stroke-linecap="round" filter="url(#f08)"/>
<rect x="968.5" y="491.8" width="20.5" height="16" fill="#fff" fill-opacity="0.05" filter="url(#f2)"/>
<rect x="878.0" y="566.3" width="12.0" height="3.4" rx="1.7" fill="#fff" fill-opacity="0.13" filter="url(#f12)"/>
<rect x="969.0" y="576.3" width="16.0" height="3.4" rx="1.7" fill="#fff" fill-opacity="0.12" filter="url(#f12)"/>
<rect x="924.0" y="572.1" width="12.0" height="3" rx="1.5" fill="#fff" fill-opacity="0.06" filter="url(#f12)"/>
</svg></body></html>
